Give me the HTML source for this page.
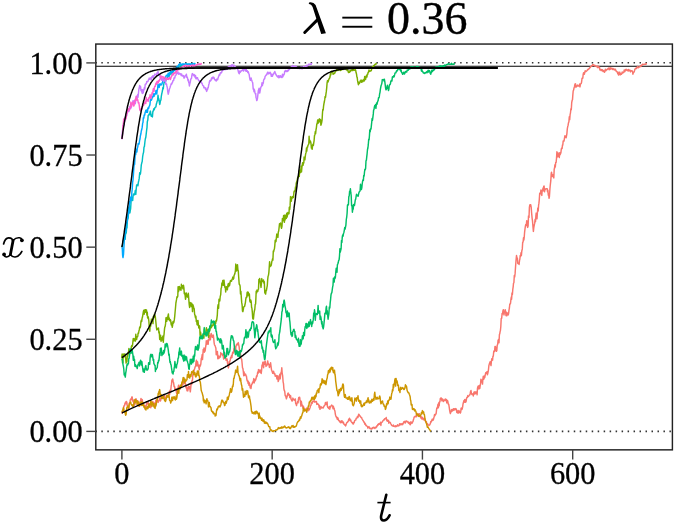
<!DOCTYPE html>
<html><head><meta charset="utf-8"><style>
html,body{margin:0;padding:0;background:#fff;overflow:hidden;}
svg{display:block;will-change:transform;}
text{font-family:"Liberation Serif",serif;fill:#000;}
</style></head><body>
<svg width="675" height="524" viewBox="0 0 675 524">
<rect x="0" y="0" width="675" height="524" fill="#fff"/>
<defs><clipPath id="pc"><rect x="95.8" y="44.05" width="576.6" height="405.8"/></clipPath></defs>
<g clip-path="url(#pc)">
<line x1="95.35" y1="62.8" x2="672.4" y2="62.8" stroke="#333" stroke-width="1.6" stroke-dasharray="1.5 4.48"/>
<line x1="95.35" y1="431.4" x2="672.4" y2="431.4" stroke="#333" stroke-width="1.6" stroke-dasharray="1.5 4.48"/>
<line x1="95.8" y1="66.29" x2="672.4" y2="66.29" stroke="#000" stroke-width="1.1"/>
<polyline points="121.9,413.7 122.3,412.3 122.7,411.2 123.1,410.8 123.4,411.1 123.8,406.0 124.2,406.1 124.6,405.5 125.0,403.1 125.3,403.9 125.7,402.0 126.1,403.8 126.5,401.5 126.9,402.7 127.2,405.3 127.6,406.8 128.0,407.6 128.4,407.1 128.8,408.2 129.2,404.7 129.5,403.1 129.9,401.9 130.3,400.0 130.7,399.0 131.1,399.7 131.4,399.4 131.8,396.9 132.2,397.0 132.6,400.9 132.9,399.5 133.3,400.8 133.7,403.2 134.1,405.3 134.5,402.6 134.9,404.4 135.2,401.4 135.6,400.8 136.0,398.7 136.4,400.0 136.8,401.5 137.2,403.8 137.6,400.8 137.9,403.5 138.3,402.8 138.7,406.1 139.1,404.1 139.5,406.0 139.8,403.2 140.2,401.3 140.6,401.1 141.0,398.4 141.4,400.0 141.9,402.8 142.3,399.6 142.8,404.2 143.2,403.0 143.6,405.3 144.0,405.8 144.3,406.8 144.7,405.7 145.1,409.1 145.5,407.6 145.9,405.4 146.3,405.9 146.7,402.6 147.0,404.2 147.4,403.8 147.8,403.0 148.2,402.3 148.6,404.2 149.1,405.8 149.5,407.2 149.9,404.2 150.3,405.4 150.8,407.7 151.2,403.7 151.6,406.1 152.0,403.9 152.4,404.2 152.8,401.5 153.3,403.4 153.7,405.0 154.1,402.9 154.5,404.0 154.9,405.6 155.3,404.7 155.7,400.5 156.1,404.8 156.5,399.7 156.9,400.6 157.3,399.8 157.7,401.5 158.1,402.4 158.5,401.4 158.9,400.2 159.2,399.9 159.6,399.5 160.0,397.4 160.4,401.1 160.8,400.0 161.2,398.2 161.6,398.0 162.0,396.2 162.4,397.4 162.7,397.8 163.1,396.6 163.5,396.6 163.9,396.9 164.3,395.8 164.7,395.4 165.2,399.6 165.6,398.1 166.0,398.4 166.4,397.7 166.9,395.7 167.3,396.8 167.7,396.9 168.1,394.7 168.5,396.3 168.8,394.7 169.2,391.4 169.6,394.4 170.0,390.8 170.4,389.9 170.8,389.9 171.2,385.7 171.5,384.4 171.9,380.0 172.3,381.6 172.7,378.9 173.2,381.7 173.6,382.8 174.1,386.6 174.5,386.2 174.9,389.4 175.3,388.9 175.7,388.6 176.0,388.9 176.4,392.3 176.8,393.9 177.2,391.1 177.6,393.0 178.0,388.6 178.4,385.6 178.8,385.1 179.2,386.7 179.7,388.1 180.1,389.0 180.5,388.0 180.9,386.9 181.3,386.7 181.8,386.6 182.2,384.8 182.6,384.0 183.0,384.4 183.4,383.0 183.7,381.4 184.1,381.8 184.5,381.3 184.9,381.8 185.3,382.8 185.7,386.5 186.2,388.0 186.6,386.9 187.0,390.7 187.4,387.9 187.8,390.9 188.2,388.7 188.6,386.3 189.1,388.6 189.5,386.8 189.9,388.8 190.3,391.8 190.8,387.2 191.2,382.4 191.7,384.3 192.1,380.4 192.5,379.9 192.9,373.1 193.4,371.9 193.8,372.0 194.2,369.9 194.6,368.7 194.9,367.7 195.3,366.4 195.6,366.4 196.0,362.2 196.4,360.3 196.8,362.6 197.1,366.0 197.5,361.6 197.9,364.1 198.2,364.7 198.6,366.4 199.0,368.3 199.3,369.8 199.7,365.1 200.1,366.2 200.4,365.6 200.8,364.1 201.3,358.4 201.7,357.8 202.2,354.5 202.5,359.6 202.9,354.5 203.2,349.5 203.6,350.7 204.0,348.0 204.4,352.2 204.7,350.4 205.1,351.2 205.5,347.9 205.9,345.7 206.3,340.8 206.6,344.4 207.0,342.0 207.4,344.0 207.8,340.3 208.2,344.2 208.5,339.6 208.9,340.5 209.3,335.4 209.7,336.5 210.1,338.1 210.4,339.8 210.8,334.9 211.2,333.4 211.6,336.5 212.0,335.2 212.4,337.4 212.8,335.2 213.3,335.1 213.7,338.0 214.1,342.6 214.4,344.4 214.8,345.4 215.2,345.9 215.5,347.0 215.9,348.2 216.2,354.8 216.6,353.3 217.0,352.6 217.4,351.4 217.8,358.7 218.1,355.3 218.5,358.4 218.9,358.4 219.3,357.2 219.7,356.3 220.0,356.2 220.4,357.1 220.8,352.6 221.2,354.1 221.7,353.7 222.1,353.7 222.5,355.2 222.9,354.8 223.3,356.9 223.7,359.0 224.1,354.9 224.5,352.8 224.9,357.6 225.3,357.9 225.7,357.3 226.1,360.3 226.4,359.6 226.8,360.6 227.1,359.0 227.5,363.1 227.9,364.0 228.4,367.9 228.8,365.9 229.2,361.5 229.5,363.0 229.9,361.2 230.3,359.7 230.7,357.2 231.1,358.1 231.5,355.5 231.9,357.6 232.3,354.5 232.7,352.3 233.1,352.2 233.5,353.0 233.9,348.9 234.3,347.9 234.7,351.0 235.1,346.8 235.5,352.3 235.9,346.8 236.3,345.0 236.7,344.3 237.1,345.1 237.5,343.4 237.9,343.9 238.3,342.6 238.7,344.8 239.1,346.6 239.6,351.4 240.0,354.7 240.4,353.1 240.8,357.1 241.2,358.8 241.7,359.2 242.1,363.2 242.5,367.8 242.9,368.4 243.3,371.3 243.7,375.7 244.1,371.9 244.4,375.5 244.8,374.3 245.2,375.0 245.6,374.1 246.0,375.9 246.4,375.9 246.9,379.7 247.3,380.9 247.7,380.4 248.1,383.4 248.5,381.6 249.0,385.3 249.4,382.9 249.8,384.6 250.2,387.8 250.6,386.6 251.0,388.5 251.4,385.4 251.8,384.3 252.2,383.8 252.6,382.1 253.0,382.5 253.4,381.2 253.8,378.6 254.2,382.9 254.6,379.5 254.9,381.1 255.3,380.4 255.7,379.8 256.1,378.3 256.5,376.1 256.9,376.7 257.3,374.7 257.7,372.0 258.1,373.2 258.5,369.6 258.9,372.1 259.3,372.0 259.7,370.2 260.1,370.0 260.5,372.5 260.9,370.6 261.2,373.5 261.6,370.3 262.0,365.1 262.4,365.7 262.8,362.3 263.2,363.0 263.6,367.7 264.0,361.9 264.4,362.9 264.8,364.3 265.2,361.0 265.6,363.6 266.0,366.4 266.4,365.7 266.9,365.6 267.3,363.8 267.7,360.9 268.1,363.6 268.5,364.6 268.9,364.2 269.4,367.5 269.8,366.1 270.2,364.6 270.6,362.8 271.0,366.1 271.5,369.9 271.9,370.8 272.3,372.0 272.7,373.2 273.1,371.9 273.6,371.3 274.0,373.6 274.4,374.1 274.8,373.5 275.2,376.2 275.7,376.1 276.1,375.4 276.5,376.2 276.9,379.0 277.3,376.3 277.8,375.7 278.2,381.6 278.6,380.4 279.0,379.1 279.4,376.4 279.8,374.3 280.2,378.8 280.6,375.0 281.0,372.6 281.4,371.7 281.8,367.8 282.2,373.5 282.6,375.3 283.1,381.8 283.5,383.6 283.9,388.8 284.3,390.5 284.7,391.1 285.2,395.7 285.6,395.6 286.0,397.2 286.4,398.9 286.8,397.5 287.3,396.1 287.7,393.8 288.1,393.0 288.5,395.0 288.9,395.0 289.4,394.4 289.8,397.6 290.2,397.2 290.6,395.7 291.0,399.1 291.4,399.2 291.8,400.7 292.1,401.1 292.5,400.3 292.9,398.1 293.3,399.3 293.7,399.8 294.1,399.4 294.5,400.2 294.9,399.6 295.3,398.9 295.7,403.8 296.1,403.5 296.5,405.6 296.9,403.5 297.3,402.9 297.7,401.5 298.1,402.7 298.4,399.4 298.8,397.4 299.2,398.9 299.6,397.2 300.0,399.4 300.4,401.3 300.9,406.3 301.3,401.3 301.7,403.5 302.1,405.4 302.5,405.2 302.9,408.1 303.3,406.3 303.7,407.1 304.1,409.1 304.5,409.5 304.9,409.8 305.3,409.3 305.7,409.0 306.1,409.0 306.4,408.9 306.8,408.0 307.2,409.2 307.6,408.2 308.0,410.8 308.4,408.2 308.8,410.1 309.3,409.7 309.7,408.5 310.1,407.7 310.5,405.8 310.9,405.5 311.3,403.3 311.7,402.4 312.1,403.6 312.5,402.0 312.9,401.1 313.3,401.4 313.7,401.4 314.1,400.6 314.5,402.0 314.9,401.6 315.2,401.9 315.6,401.7 316.0,401.5 316.4,401.4 316.8,404.4 317.2,403.9 317.6,403.6 318.0,404.3 318.4,404.2 318.8,405.2 319.2,407.7 319.6,405.6 320.0,409.3 320.4,407.0 320.8,407.3 321.1,406.7 321.5,408.0 321.9,407.9 322.3,407.5 322.7,407.7 323.1,408.1 323.5,407.4 323.9,406.1 324.3,405.8 324.7,405.5 325.1,404.2 325.5,402.4 325.9,403.5 326.3,404.4 326.7,404.4 327.1,401.9 327.4,406.3 327.8,407.5 328.2,407.5 328.6,408.5 329.0,407.7 329.4,406.4 329.8,409.2 330.2,406.8 330.6,407.1 331.0,406.0 331.4,405.4 331.8,405.1 332.2,405.6 332.6,406.2 333.0,408.7 333.4,406.3 333.8,408.8 334.1,408.1 334.5,409.9 334.9,410.9 335.3,414.0 335.7,415.6 336.1,416.9 336.5,416.8 336.9,418.1 337.3,419.2 337.7,417.6 338.1,418.5 338.5,420.3 338.9,420.5 339.3,421.3 339.7,420.9 340.1,422.3 340.4,422.1 340.8,422.8 341.2,421.0 341.6,422.4 342.0,420.8 342.5,422.6 342.9,422.8 343.4,422.1 343.8,424.0 344.2,424.3 344.6,424.4 344.9,425.2 345.3,424.7 345.7,425.9 346.1,424.5 346.5,423.1 346.8,422.7 347.2,422.5 347.6,422.1 348.0,421.5 348.4,420.9 348.7,419.2 349.1,420.2 349.5,418.2 349.9,419.3 350.3,420.8 350.7,419.9 351.1,421.3 351.5,422.1 351.9,422.6 352.3,422.4 352.6,423.7 353.0,423.2 353.4,424.0 353.8,422.3 354.2,422.6 354.6,420.8 355.0,420.3 355.4,420.1 355.8,420.0 356.2,418.2 356.6,418.3 357.0,417.6 357.4,416.6 357.9,417.6 358.3,415.8 358.7,414.3 359.1,414.4 359.5,415.7 359.9,415.7 360.4,416.5 360.8,417.1 361.2,417.7 361.6,417.5 362.1,419.0 362.5,419.7 362.9,420.2 363.3,421.0 363.7,421.4 364.0,422.4 364.4,422.3 364.8,424.2 365.2,423.5 365.6,424.3 365.9,425.5 366.3,425.3 366.7,425.9 367.1,426.3 367.5,426.5 367.8,428.0 368.2,427.5 368.6,427.2 369.0,426.6 369.4,428.0 369.7,428.5 370.1,428.2 370.5,428.7 370.9,428.2 371.3,428.9 371.7,429.1 372.1,428.5 372.4,427.8 372.8,428.2 373.2,427.3 373.6,427.7 374.0,427.3 374.4,427.8 374.8,428.5 375.2,427.6 375.5,427.7 375.9,427.8 376.3,426.5 376.7,426.9 377.1,425.5 377.4,425.8 377.8,424.5 378.2,424.9 378.6,423.7 379.0,423.7 379.3,423.7 379.7,424.2 380.1,423.7 380.5,422.3 380.9,425.5 381.2,422.8 381.6,422.5 382.0,422.1 382.4,422.1 382.8,420.9 383.1,420.6 383.5,420.1 383.9,419.6 384.3,419.9 384.7,418.7 385.0,418.8 385.4,418.6 385.8,418.2 386.2,417.5 386.6,420.2 386.9,419.6 387.3,421.3 387.7,420.2 388.1,421.0 388.5,420.4 388.8,423.2 389.2,421.9 389.6,422.1 390.0,422.3 390.4,422.7 390.8,423.7 391.3,424.8 391.7,425.3 392.1,425.6 392.5,425.9 392.9,426.1 393.3,425.0 393.7,426.2 394.1,426.1 394.5,426.4 394.9,425.9 395.3,426.8 395.7,425.7 396.1,426.1 396.5,426.3 396.9,426.5 397.2,425.6 397.6,424.7 398.0,425.6 398.4,425.6 398.8,425.9 399.2,424.9 399.6,423.8 400.0,425.0 400.3,423.9 400.7,424.5 401.1,423.8 401.5,424.7 401.9,423.9 402.2,423.8 402.6,424.7 403.0,424.0 403.4,422.7 403.8,421.8 404.1,421.9 404.5,422.6 404.9,421.2 405.3,423.0 405.7,421.5 406.0,421.4 406.4,420.9 406.8,421.1 407.2,421.9 407.6,422.1 408.0,421.6 408.5,423.2 408.9,423.4 409.3,422.5 409.7,424.0 410.1,424.8 410.5,424.5 410.9,421.7 411.3,423.0 411.7,423.2 412.1,423.2 412.5,422.1 412.9,421.7 413.3,420.1 413.7,418.9 414.2,417.0 414.6,417.0 415.0,416.3 415.4,416.3 415.8,416.8 416.2,416.8 416.5,414.9 416.9,415.7 417.3,413.5 417.7,414.3 418.1,416.1 418.5,414.7 419.0,414.5 419.4,413.7 419.8,416.1 420.2,416.3 420.6,417.8 421.0,416.3 421.3,418.0 421.7,418.9 422.1,417.3 422.5,417.8 422.9,419.1 423.2,419.5 423.6,419.7 424.0,418.2 424.4,420.0 424.8,418.7 425.2,420.3 425.6,421.4 426.0,422.1 426.4,421.5 426.8,424.0 427.2,423.9 427.6,423.7 428.0,425.1 428.5,424.9 428.9,425.4 429.3,424.9 429.7,424.9 430.1,424.0 430.4,423.4 430.8,421.5 431.2,421.9 431.6,421.3 431.9,420.1 432.3,419.1 432.7,420.2 433.1,420.3 433.4,419.7 433.8,418.0 434.2,416.5 434.6,414.4 434.9,415.8 435.3,414.8 435.7,414.3 436.1,413.6 436.5,410.3 436.8,407.9 437.2,408.3 437.6,406.6 438.0,404.2 438.4,407.7 438.8,402.7 439.2,405.7 439.5,401.8 439.9,402.0 440.3,398.6 440.7,398.8 441.1,397.8 441.5,398.6 441.9,400.8 442.2,400.5 442.6,399.0 443.0,400.0 443.4,401.5 443.8,400.4 444.1,400.1 444.5,400.5 444.9,400.6 445.3,398.9 445.6,400.6 446.0,400.5 446.4,399.4 446.8,402.9 447.2,400.5 447.5,400.4 447.9,401.8 448.3,404.1 448.7,404.2 449.1,406.5 449.6,410.1 450.0,412.2 450.4,413.6 450.8,411.0 451.2,411.9 451.5,409.6 451.9,411.4 452.3,410.9 452.7,409.5 453.1,409.3 453.4,408.7 453.8,410.4 454.2,408.7 454.6,409.3 454.9,409.7 455.3,409.5 455.7,408.6 456.1,408.8 456.5,410.2 456.8,412.5 457.2,410.5 457.6,412.9 458.0,412.2 458.4,413.1 458.8,410.4 459.2,411.1 459.5,412.0 459.9,412.6 460.3,413.1 460.7,412.2 461.1,408.1 461.5,408.0 461.9,409.5 462.2,408.9 462.6,407.2 463.0,404.0 463.4,402.8 463.8,400.8 464.2,402.3 464.6,399.8 464.9,399.5 465.3,401.0 465.7,402.2 466.1,401.5 466.5,398.6 467.0,397.3 467.4,397.5 467.8,395.6 468.3,396.5 468.7,396.2 469.1,395.5 469.5,394.7 469.9,394.7 470.2,393.5 470.6,391.4 471.0,390.5 471.4,393.5 471.8,394.3 472.2,394.6 472.6,394.2 472.9,393.7 473.3,396.0 473.7,393.2 474.1,392.1 474.5,394.0 475.0,391.7 475.4,393.7 475.8,392.9 476.3,391.9 476.7,392.1 477.1,394.8 477.5,388.1 477.9,386.7 478.2,385.9 478.6,388.5 479.0,389.0 479.4,385.5 479.8,388.3 480.2,385.6 480.6,383.6 480.9,379.3 481.3,382.1 481.7,381.9 482.1,380.1 482.5,384.1 482.9,378.8 483.3,376.2 483.6,379.4 484.0,378.9 484.4,376.0 484.8,377.5 485.2,375.1 485.7,372.8 486.1,372.4 486.5,373.3 487.0,371.7 487.4,374.8 487.8,373.4 488.2,371.4 488.5,369.3 488.9,365.5 489.3,364.1 489.7,362.9 490.1,361.7 490.6,363.3 491.0,365.6 491.4,361.4 491.8,358.7 492.2,360.0 492.6,360.2 492.9,356.2 493.3,356.2 493.7,351.8 494.1,350.7 494.5,351.6 495.0,346.4 495.4,346.7 495.8,347.3 496.1,350.9 496.4,351.3 496.8,350.7 497.2,345.4 497.7,344.2 498.1,340.1 498.5,339.6 499.0,342.7 499.4,334.7 499.8,333.6 500.1,331.6 500.4,330.6 500.8,326.7 501.2,318.6 501.7,318.3 502.1,313.4 502.5,313.9 502.9,311.0 503.3,309.7 503.6,311.4 504.0,315.0 504.4,311.9 504.8,312.0 505.2,309.7 505.6,311.6 506.0,315.6 506.3,312.2 506.7,315.8 507.1,312.6 507.5,314.7 507.9,313.8 508.3,314.9 508.6,313.4 509.0,310.1 509.4,308.0 509.8,304.0 510.1,304.0 510.5,303.4 510.9,299.6 511.3,297.1 511.6,299.3 512.0,292.9 512.4,294.5 512.8,289.3 513.2,286.6 513.5,283.2 513.9,282.8 514.3,275.6 514.7,276.9 515.1,273.4 515.6,266.0 516.0,260.8 516.5,255.5 516.9,257.7 517.4,258.2 517.8,263.5 518.3,263.0 518.7,263.5 519.1,264.5 519.5,260.7 519.9,258.8 520.2,255.5 520.6,256.5 521.0,252.8 521.4,255.5 521.8,251.0 522.3,248.9 522.7,242.1 523.1,242.0 523.5,237.7 523.9,240.0 524.2,237.5 524.6,232.2 525.0,229.0 525.4,226.1 525.8,224.5 526.3,225.5 526.7,220.8 527.2,221.1 527.6,227.4 528.1,226.1 528.5,215.9 529.0,217.4 529.4,207.4 529.8,204.9 530.3,204.7 530.7,204.7 531.2,207.3 531.6,212.7 532.1,218.1 532.5,220.9 533.0,227.3 533.4,231.4 533.8,227.7 534.3,224.8 534.7,223.4 535.1,219.3 535.5,221.6 535.9,215.6 536.2,213.1 536.6,217.1 537.0,218.7 537.4,212.7 537.8,208.0 538.2,211.0 538.6,205.2 538.9,203.4 539.3,199.5 539.7,193.2 540.1,194.0 540.5,193.4 540.9,190.1 541.4,190.7 541.8,195.4 542.2,190.0 542.6,190.5 543.0,188.0 543.3,190.8 543.7,186.5 544.1,186.0 544.5,191.8 544.9,189.7 545.3,189.5 545.6,189.0 546.0,188.7 546.4,188.8 546.8,188.7 547.2,188.8 547.5,191.7 547.9,190.2 548.3,195.1 548.7,194.2 549.0,198.3 549.4,196.7 549.9,189.2 550.3,184.8 550.8,180.7 551.2,173.9 551.5,172.2 551.9,174.7 552.3,176.6 552.7,176.0 553.0,174.8 553.4,175.3 553.8,177.9 554.2,169.1 554.5,168.4 554.9,164.8 555.3,167.0 555.7,162.4 556.1,162.3 556.5,158.6 556.9,151.8 557.3,157.0 557.7,153.1 558.1,152.9 558.5,156.3 558.9,156.6 559.3,157.6 559.7,152.7 560.1,154.8 560.5,153.8 560.9,152.7 561.3,149.1 561.7,148.1 562.1,148.6 562.5,144.9 562.8,145.0 563.2,140.9 563.6,140.9 564.0,141.1 564.5,138.1 564.9,135.8 565.3,136.1 565.7,136.8 566.1,137.8 566.5,135.8 566.9,133.6 567.3,128.9 567.7,126.6 568.1,125.2 568.5,122.7 568.9,121.9 569.3,116.7 569.7,119.6 570.1,114.7 570.5,112.8 570.9,108.7 571.3,109.6 571.7,102.7 572.1,100.5 572.5,99.6 572.8,95.4 573.2,90.8 573.6,90.2 574.0,88.0 574.4,87.0 574.8,84.8 575.2,83.7 575.6,84.1 576.0,87.4 576.4,85.9 576.8,86.2 577.2,86.0 577.6,85.1 578.0,85.8 578.4,86.0 578.8,86.0 579.2,85.7 579.6,84.1 580.0,86.9 580.4,84.2 580.8,83.6 581.2,83.6 581.6,82.0 582.0,78.5 582.4,78.0 582.8,78.2 583.2,74.1 583.6,72.8 584.0,72.9 584.4,74.2 584.8,72.2 585.2,70.8 585.6,71.7 586.0,71.5 586.4,71.2 586.8,70.8 587.2,70.4 587.6,69.7 588.0,69.3 588.4,69.5 588.8,68.9 589.2,68.5 589.6,68.3 589.9,67.5 590.3,67.4 590.7,66.7 591.1,66.4 591.5,65.7 591.9,66.1 592.3,65.7 592.7,64.6 593.1,64.7 593.5,64.8 593.9,65.4 594.3,65.9 594.7,65.2 595.1,65.7 595.5,66.0 595.9,66.3 596.3,66.4 596.7,66.6 597.1,66.3 597.5,67.5 597.9,66.0 598.3,67.5 598.7,66.9 599.1,67.1 599.5,67.2 599.9,69.9 600.3,69.4 600.7,70.0 601.1,70.5 601.5,69.6 601.9,70.5 602.3,69.7 602.7,70.7 603.0,71.5 603.4,70.5 603.8,71.4 604.2,71.7 604.6,72.2 605.0,70.5 605.4,69.2 605.9,70.8 606.3,70.0 606.7,70.0 607.1,69.3 607.5,69.4 607.9,68.7 608.3,68.3 608.7,68.0 609.1,69.7 609.5,68.4 609.8,69.6 610.2,67.7 610.6,69.0 611.0,69.0 611.4,68.7 611.8,68.1 612.2,68.6 612.6,69.5 613.0,68.5 613.4,68.9 613.8,69.1 614.2,70.0 614.6,69.4 615.0,69.0 615.4,69.3 615.8,70.4 616.2,71.3 616.6,71.5 617.0,71.7 617.4,72.2 617.8,73.8 618.2,72.3 618.6,75.1 619.0,74.1 619.4,73.6 619.8,72.1 620.2,74.9 620.6,73.7 621.0,74.2 621.4,74.3 621.8,73.7 622.2,71.9 622.6,72.9 623.0,73.0 623.4,72.2 623.8,72.3 624.2,70.0 624.5,70.9 624.9,71.6 625.3,70.0 625.7,69.6 626.1,69.3 626.5,70.2 626.9,70.4 627.3,70.0 627.7,69.9 628.1,70.9 628.5,69.4 628.9,70.9 629.3,70.1 629.7,70.5 630.1,70.3 630.5,71.9 630.9,70.6 631.3,71.1 631.7,70.7 632.1,70.7 632.5,71.5 632.9,74.2 633.3,72.9 633.7,72.3 634.1,72.0 634.5,70.7 634.9,69.2 635.3,68.9 635.7,68.1 636.1,68.1 636.5,68.6 636.9,67.2 637.3,67.6 637.7,66.5 638.1,67.6 638.5,67.7 638.9,67.4 639.3,66.9 639.7,66.8 640.1,66.6 640.5,65.6 640.9,66.5 641.3,65.4 641.7,64.9 642.1,65.2 642.5,64.2 642.9,64.5 643.3,64.5 643.7,64.4 644.1,64.2 644.5,64.2 644.8,64.2 645.2,64.2 645.6,64.2 646.0,64.2 646.4,62.9" fill="none" stroke="#F8766D" stroke-width="1.45" stroke-linejoin="round"/>
<polyline points="121.9,412.2 122.3,411.1 122.7,410.2 123.0,409.1 123.4,407.6 123.8,409.4 124.2,412.1 124.6,412.1 124.9,411.6 125.3,414.0 125.7,415.2 126.1,414.4 126.5,410.3 126.8,407.9 127.2,407.0 127.6,407.1 128.0,406.1 128.4,408.1 128.8,407.6 129.2,404.5 129.5,403.1 129.9,403.1 130.3,403.0 130.7,402.0 131.1,404.3 131.5,404.8 131.8,405.2 132.2,404.8 132.6,406.2 133.0,405.0 133.4,406.3 133.8,404.0 134.1,403.2 134.5,400.5 134.9,399.5 135.3,402.7 135.6,399.6 136.0,401.8 136.4,401.5 136.8,400.7 137.2,404.7 137.5,402.5 137.9,401.2 138.3,402.1 138.7,403.4 139.0,405.2 139.4,406.1 139.8,405.2 140.2,403.1 140.6,402.6 140.9,404.7 141.3,401.9 141.7,405.5 142.1,401.9 142.5,403.0 142.9,405.5 143.2,402.9 143.6,404.1 144.0,407.2 144.4,406.8 144.8,406.8 145.1,408.6 145.5,409.1 145.9,410.0 146.3,408.0 146.7,408.2 147.1,406.8 147.4,406.3 147.8,408.8 148.2,407.7 148.6,406.1 149.0,403.9 149.3,406.8 149.7,405.9 150.1,403.8 150.5,404.5 150.8,400.7 151.2,401.5 151.6,404.0 152.0,406.2 152.4,402.5 152.8,404.3 153.1,404.6 153.5,403.7 153.9,406.8 154.3,407.1 154.7,407.6 155.1,408.4 155.5,403.5 155.8,406.0 156.2,404.0 156.6,402.4 157.0,400.4 157.4,399.5 157.8,397.5 158.2,393.2 158.5,394.6 158.9,391.5 159.3,390.8 159.7,389.6 160.1,393.4 160.4,396.3 160.8,395.9 161.2,394.6 161.6,398.3 161.9,396.6 162.3,396.9 162.7,398.6 163.1,398.2 163.5,396.6 163.9,398.1 164.2,398.8 164.6,400.6 165.0,399.6 165.4,401.5 165.8,400.6 166.2,398.3 166.6,396.9 166.9,395.4 167.3,396.0 167.7,396.9 168.1,395.8 168.4,396.9 168.8,394.9 169.2,396.9 169.6,400.5 169.9,400.5 170.3,400.9 170.7,403.0 171.1,401.7 171.5,400.3 171.8,397.2 172.2,398.0 172.6,400.6 173.0,396.9 173.4,398.6 173.8,397.1 174.2,396.8 174.5,398.0 174.9,399.2 175.3,400.0 175.7,399.0 176.1,396.0 176.4,399.2 176.8,398.1 177.2,394.9 177.6,392.3 178.0,388.6 178.4,390.0 178.8,393.2 179.1,389.0 179.5,389.3 179.9,386.5 180.3,388.1 180.7,385.1 181.1,386.8 181.5,385.4 181.9,382.0 182.4,382.9 182.8,379.7 183.2,377.4 183.6,378.4 184.0,377.8 184.4,383.0 184.7,381.8 185.1,379.3 185.5,381.3 185.9,381.3 186.3,380.3 186.6,380.1 187.0,379.4 187.4,374.6 187.8,374.6 188.2,377.1 188.5,371.5 188.9,377.4 189.3,377.4 189.7,378.1 190.1,374.8 190.5,375.4 190.9,376.6 191.3,373.9 191.7,371.7 192.1,372.6 192.5,372.2 192.9,371.9 193.3,370.4 193.7,374.8 194.1,372.7 194.4,373.7 194.8,372.4 195.2,374.9 195.5,376.5 195.9,376.9 196.2,376.5 196.6,373.5 197.0,373.6 197.4,370.9 197.8,371.8 198.1,375.5 198.5,371.0 198.9,375.5 199.4,376.0 199.8,381.3 200.3,381.9 200.8,386.0 201.2,390.3 201.7,391.8 202.2,393.1 202.7,395.0 203.1,396.5 203.4,400.9 203.8,399.2 204.2,402.8 204.6,402.3 204.9,400.4 205.3,401.9 205.7,401.4 206.1,403.8 206.5,400.0 206.9,398.8 207.3,400.0 207.7,400.7 208.1,402.1 208.5,406.9 208.9,403.5 209.3,402.5 209.7,406.6 210.2,406.5 210.6,407.1 211.0,407.7 211.4,410.7 211.8,411.5 212.3,411.2 212.7,412.4 213.1,411.9 213.5,413.8 213.9,413.1 214.4,413.6 214.8,413.6 215.2,416.1 215.6,415.0 216.0,415.4 216.5,411.0 216.9,409.0 217.3,409.8 217.7,408.6 218.1,406.8 218.5,407.0 218.9,406.2 219.2,405.8 219.6,406.4 220.0,407.0 220.4,405.6 220.8,405.1 221.2,402.9 221.7,400.6 222.1,400.0 222.5,401.4 222.9,400.8 223.3,402.6 223.8,402.4 224.2,403.5 224.6,405.6 225.0,405.2 225.4,402.0 225.8,401.3 226.2,403.2 226.6,401.6 227.0,400.5 227.4,397.2 227.8,397.2 228.2,399.4 228.6,396.8 229.0,396.1 229.4,394.4 229.7,392.7 230.1,391.6 230.5,388.6 230.9,390.9 231.3,392.3 231.7,391.4 232.1,388.8 232.5,386.0 232.9,386.6 233.3,384.2 233.7,378.3 234.1,378.3 234.5,375.8 234.9,374.7 235.3,373.0 235.6,370.1 236.0,371.3 236.4,371.0 236.8,372.4 237.2,368.8 237.6,366.2 238.0,372.4 238.5,374.8 238.9,375.7 239.3,376.2 239.7,378.7 240.1,380.7 240.6,378.4 241.0,381.9 241.4,384.6 241.8,385.8 242.2,390.1 242.7,388.7 243.1,393.0 243.5,397.2 243.9,394.5 244.3,395.1 244.8,396.4 245.2,391.3 245.6,393.0 246.0,394.6 246.4,394.1 246.9,390.6 247.3,391.0 247.7,390.9 248.1,393.9 248.5,397.5 249.0,397.9 249.4,395.9 249.8,399.3 250.2,400.6 250.6,403.1 251.1,406.7 251.5,411.1 251.9,411.9 252.3,413.3 252.7,412.2 253.2,413.0 253.6,413.0 254.0,414.0 254.4,412.2 254.8,413.1 255.2,411.5 255.6,413.9 256.0,413.5 256.4,411.2 256.8,411.4 257.2,411.9 257.6,413.5 258.0,413.6 258.4,414.5 258.8,418.3 259.1,413.0 259.5,416.6 259.9,416.1 260.3,418.2 260.7,417.8 261.1,418.6 261.6,420.2 262.0,418.1 262.4,420.3 262.8,421.0 263.2,421.3 263.6,419.8 264.0,420.3 264.4,423.1 264.8,421.6 265.2,423.4 265.6,422.4 266.0,422.1 266.4,423.1 266.8,423.5 267.1,422.9 267.5,423.5 267.9,424.2 268.3,425.3 268.7,426.6 269.1,426.6 269.4,426.7 269.8,426.7 270.1,429.1 270.5,429.5 270.9,430.5 271.2,430.0 271.6,429.9 271.9,430.8 272.3,431.2 272.7,431.1 273.1,431.6 273.5,430.8 273.9,430.7 274.3,430.7 274.7,430.6 275.1,430.6 275.5,430.4 275.9,430.0 276.3,430.1 276.8,429.8 277.2,429.7 277.6,429.0 278.0,428.7 278.4,427.6 278.9,428.7 279.3,428.3 279.7,428.3 280.1,427.6 280.5,427.7 281.0,428.3 281.4,427.2 281.8,426.9 282.2,428.1 282.6,427.6 283.1,427.0 283.5,427.6 283.9,427.0 284.3,426.3 284.7,425.9 285.0,426.7 285.4,427.3 285.8,427.8 286.2,427.9 286.6,427.9 287.0,427.6 287.3,427.5 287.7,427.3 288.1,427.6 288.5,426.8 288.9,427.0 289.4,427.4 289.8,428.6 290.2,428.6 290.6,428.3 291.0,427.0 291.5,427.0 291.9,425.8 292.3,426.6 292.7,426.8 293.1,425.4 293.5,427.2 293.9,427.1 294.2,427.3 294.6,426.6 295.0,426.9 295.4,426.6 295.8,426.4 296.2,426.0 296.7,424.7 297.1,422.9 297.5,422.4 297.9,421.7 298.3,421.5 298.8,421.0 299.2,419.7 299.6,420.3 300.0,418.8 300.4,417.0 300.9,418.3 301.3,416.3 301.7,416.1 302.1,414.4 302.5,413.1 303.0,412.1 303.4,407.9 303.8,409.8 304.2,409.2 304.6,411.0 305.1,410.0 305.5,410.4 305.9,410.8 306.3,410.1 306.7,412.2 307.2,409.2 307.6,409.2 308.0,407.7 308.4,405.8 308.8,406.1 309.3,402.1 309.7,402.6 310.1,401.4 310.5,400.4 310.9,401.0 311.4,399.1 311.8,397.5 312.2,397.2 312.6,398.2 313.0,399.4 313.5,397.2 313.9,397.6 314.3,399.3 314.7,395.9 315.1,398.5 315.6,394.9 316.0,396.7 316.4,393.0 316.8,393.3 317.2,390.8 317.6,390.3 318.0,390.3 318.4,388.9 318.8,392.6 319.2,388.8 319.6,388.8 320.0,387.6 320.4,384.2 320.9,383.6 321.3,384.9 321.7,382.5 322.1,378.8 322.5,379.4 323.0,383.0 323.4,381.5 323.8,380.4 324.2,382.4 324.6,383.5 325.1,381.0 325.5,382.3 325.9,384.6 326.3,382.3 326.7,379.5 327.2,378.1 327.6,374.6 328.0,374.1 328.4,370.7 328.8,372.9 329.3,370.0 329.7,369.3 330.1,372.0 330.5,368.3 331.0,369.0 331.4,367.3 331.8,367.8 332.3,369.9 332.7,367.4 333.2,372.0 333.6,372.8 334.0,371.0 334.5,370.2 334.9,374.2 335.3,376.2 335.7,381.1 336.1,384.1 336.6,388.1 337.0,390.7 337.4,390.9 337.8,392.9 338.2,395.8 338.7,394.3 339.1,389.4 339.5,393.0 339.9,389.5 340.3,391.1 340.8,388.3 341.2,390.2 341.6,388.8 342.0,388.3 342.5,385.3 342.9,383.9 343.4,385.1 343.8,391.5 344.2,395.7 344.6,397.2 344.9,395.3 345.3,394.6 345.7,397.3 346.1,398.1 346.5,397.9 346.8,398.0 347.2,398.7 347.6,399.2 348.0,397.6 348.4,398.9 348.7,399.2 349.1,396.5 349.5,397.0 349.9,397.6 350.3,400.6 350.7,399.5 351.1,399.0 351.5,401.1 351.9,397.7 352.3,401.6 352.6,404.9 353.0,404.5 353.4,405.8 353.8,404.4 354.2,403.4 354.5,401.3 354.9,398.0 355.3,399.2 355.7,399.7 356.1,398.6 356.4,401.1 356.8,397.7 357.2,398.5 357.6,398.1 358.0,395.8 358.3,399.1 358.7,401.2 359.1,401.1 359.5,400.3 359.9,403.1 360.3,401.9 360.7,401.0 361.1,405.9 361.5,404.8 361.9,406.8 362.3,406.2 362.7,406.2 363.1,405.3 363.6,404.5 364.0,403.2 364.4,405.2 364.8,403.0 365.2,402.8 365.6,402.8 366.0,402.1 366.5,400.9 366.9,402.6 367.3,400.3 367.7,399.2 368.1,397.7 368.5,401.7 368.8,399.9 369.2,402.8 369.6,403.0 370.0,401.9 370.4,402.6 370.7,401.1 371.1,402.7 371.5,401.0 371.9,399.2 372.3,401.3 372.7,400.7 373.2,400.5 373.6,398.6 374.0,400.1 374.4,394.4 374.8,392.2 375.2,396.3 375.6,397.0 376.0,399.4 376.4,397.7 376.8,398.8 377.2,397.3 377.6,398.9 378.0,398.8 378.4,398.4 378.9,398.7 379.3,396.9 379.7,395.9 380.1,397.3 380.5,401.2 380.9,403.8 381.3,403.3 381.7,401.5 382.1,402.2 382.5,400.9 382.9,403.0 383.3,404.2 383.7,404.2 384.1,406.2 384.6,405.9 385.0,407.0 385.4,409.4 385.8,408.7 386.2,406.7 386.6,403.8 386.9,405.0 387.3,403.5 387.7,401.1 388.1,403.7 388.5,400.4 388.9,400.1 389.4,400.0 389.8,397.1 390.2,398.1 390.6,399.2 391.0,399.1 391.4,395.6 391.7,393.5 392.1,392.4 392.5,389.6 392.9,390.7 393.3,384.4 393.6,387.7 394.0,384.2 394.4,383.9 394.8,380.0 395.2,378.6 395.6,386.1 396.1,378.5 396.5,382.2 396.9,380.6 397.3,382.0 397.7,385.4 398.1,385.8 398.4,385.2 398.8,390.5 399.2,389.6 399.6,390.6 400.0,392.5 400.3,387.9 400.7,387.3 401.1,387.7 401.5,389.2 401.9,388.4 402.3,388.2 402.7,387.6 403.1,388.1 403.5,388.9 403.9,389.6 404.3,389.4 404.7,388.0 405.0,388.1 405.4,384.8 405.8,385.8 406.2,385.8 406.6,386.7 406.9,389.1 407.3,391.1 407.7,391.5 408.1,392.7 408.5,392.7 408.9,392.9 409.3,394.2 409.7,395.3 410.1,396.4 410.5,400.0 410.8,400.8 411.2,404.9 411.6,404.9 412.0,404.5 412.4,409.2 412.7,408.2 413.1,409.6 413.5,408.7 413.9,408.8 414.3,409.2 414.6,410.9 415.0,409.6 415.4,410.6 415.8,411.1 416.2,412.9 416.5,414.6 416.9,414.9 417.3,414.4 417.7,414.9 418.1,414.0 418.4,415.4 418.8,416.4 419.2,416.3 419.6,415.8 420.0,415.7 420.3,416.1 420.7,414.9 421.1,414.4 421.5,412.5 422.0,413.8 422.4,410.6 422.8,411.7 423.2,412.8 423.6,411.9 424.0,414.4 424.4,414.7 424.8,417.5 425.1,419.6 425.5,420.9 425.9,422.1 426.3,423.2 426.7,424.3 427.0,425.6 427.4,427.2 427.8,426.8 428.2,427.3 428.6,428.3 429.0,428.9 429.4,429.1 429.8,429.8 430.2,430.4 430.6,431.4" fill="none" stroke="#CD9600" stroke-width="1.45" stroke-linejoin="round"/>
<polyline points="121.7,357.8 122.1,354.0 122.5,362.9 122.9,362.6 123.3,354.2 123.7,354.6 124.1,354.0 124.5,354.0 124.9,356.9 125.3,354.3 125.7,358.8 126.1,363.1 126.5,361.6 126.9,361.6 127.3,355.9 127.7,356.2 128.1,352.7 128.5,352.2 128.9,348.5 129.3,354.0 129.7,353.9 130.1,350.2 130.5,350.4 131.0,349.4 131.4,346.3 131.8,345.5 132.2,346.3 132.6,344.8 133.0,340.5 133.3,338.4 133.7,340.9 134.1,338.7 134.5,340.5 134.9,340.3 135.3,341.2 135.8,334.2 136.2,338.9 136.6,339.6 137.0,336.8 137.4,337.0 137.8,335.9 138.1,333.1 138.5,333.4 138.9,331.0 139.3,329.7 139.7,327.1 140.1,327.8 140.5,326.7 140.9,322.0 141.3,320.3 141.7,321.5 142.1,318.3 142.5,317.1 142.9,314.6 143.4,311.4 143.8,310.2 144.2,314.2 144.6,312.0 145.0,309.7 145.4,312.2 145.7,309.8 146.1,311.0 146.5,310.0 146.9,315.1 147.3,312.2 147.6,318.0 148.0,316.5 148.4,317.7 148.9,321.5 149.4,329.2 149.8,331.2 150.2,324.6 150.6,326.3 151.0,323.5 151.4,319.1 151.8,320.1 152.2,319.6 152.6,319.9 153.0,323.6 153.3,316.6 153.7,317.4 154.1,315.8 154.5,313.9 154.9,317.8 155.2,315.7 155.6,319.3 156.0,323.4 156.4,327.3 156.8,329.9 157.2,328.4 157.7,329.6 158.1,328.3 158.5,328.0 158.9,333.0 159.3,331.9 159.7,339.5 160.1,338.1 160.6,335.2 161.0,341.3 161.4,337.7 161.8,338.7 162.2,340.0 162.6,337.3 162.9,336.1 163.3,342.2 163.7,336.8 164.1,333.8 164.5,329.1 164.8,327.1 165.2,326.3 165.6,323.4 166.0,317.7 166.4,318.2 166.8,321.2 167.2,317.2 167.6,319.4 168.0,315.8 168.4,313.9 168.8,319.5 169.2,317.9 169.5,320.7 169.9,320.4 170.3,319.6 170.7,320.6 171.1,324.0 171.4,325.0 171.8,323.1 172.2,327.3 172.6,325.5 173.0,321.5 173.4,323.1 173.9,322.2 174.3,319.9 174.7,316.6 175.1,312.0 175.5,307.7 175.9,303.0 176.2,301.3 176.6,299.2 177.0,296.7 177.4,297.2 177.8,296.0 178.1,286.8 178.5,291.6 178.9,289.0 179.3,286.4 179.7,288.4 180.1,289.7 180.6,287.4 181.0,290.2 181.4,284.3 181.8,287.2 182.2,287.7 182.6,285.8 183.0,288.8 183.5,285.3 183.9,287.9 184.3,293.8 184.7,292.9 185.1,295.3 185.5,299.3 185.9,297.3 186.3,292.9 186.7,296.5 187.1,295.0 187.5,296.7 187.9,297.2 188.3,293.3 188.8,299.4 189.2,304.5 189.6,307.5 190.0,302.5 190.4,303.9 190.8,302.9 191.3,306.6 191.7,303.3 192.1,304.6 192.5,311.6 192.9,304.8 193.4,306.4 193.8,307.8 194.2,308.8 194.6,314.0 195.0,315.3 195.5,317.8 195.9,316.2 196.3,321.4 196.7,320.4 197.1,324.6 197.6,325.0 198.0,320.5 198.4,324.5 198.8,328.0 199.2,325.7 199.7,326.5 200.1,335.4 200.5,331.9 200.9,334.3 201.3,336.1 201.8,336.4 202.2,337.0 202.6,338.2 203.0,334.9 203.4,336.1 203.9,338.1 204.3,328.9 204.7,334.0 205.1,333.6 205.5,332.3 206.0,333.2 206.4,327.7 206.8,329.8 207.2,329.6 207.6,330.9 208.1,331.8 208.5,337.3 208.9,334.0 209.3,330.2 209.7,330.8 210.2,328.2 210.6,327.3 211.0,327.7 211.4,327.6 211.8,324.9 212.3,326.1 212.7,325.0 213.1,325.6 213.5,323.3 213.9,323.8 214.4,321.9 214.8,326.0 215.2,323.5 215.6,323.7 216.0,320.6 216.5,321.0 216.9,318.3 217.3,315.1 217.7,307.4 218.1,304.7 218.6,308.3 219.0,299.3 219.4,300.4 219.8,300.9 220.2,296.7 220.7,294.6 221.1,288.2 221.5,287.8 221.9,282.9 222.3,284.6 222.8,280.4 223.2,285.4 223.6,281.5 224.0,280.1 224.4,284.0 224.9,287.5 225.3,287.1 225.7,292.0 226.1,286.7 226.5,286.7 227.0,288.4 227.4,289.7 227.8,285.7 228.2,283.8 228.6,286.6 229.1,283.3 229.5,285.6 229.9,283.6 230.3,281.0 230.7,280.5 231.2,281.3 231.6,281.0 232.0,279.4 232.4,278.8 232.8,277.1 233.3,279.2 233.7,278.5 234.1,275.2 234.5,274.7 234.9,273.6 235.4,270.7 235.8,264.1 236.2,266.8 236.6,271.0 237.0,268.2 237.5,264.7 237.9,269.7 238.3,271.0 238.7,277.3 239.2,284.3 239.6,284.5 240.1,286.0 240.5,294.0 240.9,291.2 241.3,297.1 241.7,302.4 242.1,304.8 242.5,311.1 242.9,311.7 243.3,309.7 243.7,306.8 244.2,306.6 244.6,306.3 245.0,304.5 245.4,302.6 245.8,299.0 246.2,297.2 246.7,297.5 247.1,292.6 247.5,292.0 247.9,295.8 248.3,292.3 248.7,294.7 249.0,293.6 249.4,294.3 249.8,301.0 250.3,302.3 250.7,299.9 251.2,301.8 251.6,307.4 251.9,308.0 252.3,311.9 252.7,318.3 253.0,319.0 253.4,319.1 253.9,314.2 254.3,311.2 254.8,309.2 255.2,304.5 255.6,304.1 255.9,298.1 256.2,291.3 256.6,292.9 257.0,290.1 257.4,291.1 257.8,291.4 258.1,289.6 258.5,289.1 258.9,279.4 259.3,281.5 259.7,278.5 260.1,281.0 260.6,284.2 261.0,287.4 261.4,283.6 261.8,278.6 262.2,281.3 262.7,281.6 263.1,281.3 263.5,280.0 263.9,283.1 264.3,281.7 264.8,293.0 265.2,290.1 265.6,294.1 266.0,290.9 266.4,290.6 266.9,287.7 267.3,285.6 267.7,279.4 268.1,276.1 268.5,275.2 268.9,272.1 269.2,267.7 269.6,261.8 270.0,266.8 270.4,265.9 270.9,265.9 271.3,265.0 271.8,261.6 272.2,260.5 272.6,258.7 272.9,260.1 273.3,251.1 273.6,251.9 274.0,250.0 274.4,249.0 274.8,245.6 275.2,240.3 275.6,242.0 276.0,241.3 276.4,237.7 276.8,234.1 277.1,234.3 277.5,235.3 277.9,237.4 278.3,232.1 278.7,231.0 279.1,227.6 279.5,223.8 279.8,223.9 280.2,223.4 280.6,223.0 281.1,226.9 281.5,228.3 282.0,226.0 282.4,218.6 282.8,220.1 283.2,220.4 283.6,215.5 284.0,220.7 284.4,222.2 284.8,215.1 285.1,220.0 285.5,215.3 285.9,215.1 286.3,218.4 286.7,213.3 287.1,217.0 287.5,215.0 287.8,212.5 288.2,213.4 288.6,213.9 289.0,213.6 289.3,207.3 289.7,209.3 290.1,205.9 290.5,196.6 290.9,200.1 291.3,201.2 291.6,198.8 292.0,197.0 292.4,198.0 292.7,196.5 293.1,196.7 293.5,197.5 293.9,192.3 294.3,191.0 294.7,191.6 295.1,190.9 295.5,186.9 295.8,188.7 296.2,183.5 296.6,181.9 297.0,181.3 297.4,178.9 297.8,177.2 298.1,177.9 298.5,176.5 298.9,175.0 299.3,176.4 299.6,170.1 300.0,172.9 300.3,169.9 300.7,172.2 301.1,166.1 301.5,171.9 301.9,167.4 302.2,165.4 302.6,162.8 303.0,165.3 303.4,163.3 303.8,163.0 304.1,157.1 304.5,157.6 304.9,159.8 305.3,156.2 305.7,153.7 306.1,152.4 306.5,147.9 306.8,151.1 307.2,146.9 307.6,147.0 308.0,145.2 308.4,144.8 308.8,143.8 309.1,136.2 309.5,142.7 309.9,140.1 310.3,141.7 310.7,141.8 311.0,143.6 311.4,148.1 311.8,147.4 312.2,149.3 312.6,145.2 313.0,144.3 313.4,145.5 313.7,143.2 314.1,140.6 314.5,135.6 314.9,134.7 315.3,131.5 315.6,133.6 316.0,129.8 316.4,127.6 316.8,124.1 317.2,123.3 317.7,119.9 318.1,123.4 318.6,121.8 319.0,119.5 319.4,118.8 319.8,120.3 320.1,122.2 320.5,119.6 320.9,125.2 321.3,124.1 321.7,122.3 322.1,119.8 322.5,112.7 322.8,109.5 323.2,109.9 323.6,105.8 324.0,103.4 324.4,101.5 324.8,99.2 325.1,96.6 325.5,97.4 325.9,94.3 326.3,91.7 326.7,87.9 327.1,82.9 327.5,80.6 328.0,82.0 328.4,80.9 328.9,79.3 329.3,78.3 329.7,78.2 330.1,76.5 330.5,73.3 330.8,74.9 331.2,71.4 331.6,71.4 332.0,71.8 332.4,72.3 332.8,72.6 333.1,74.3 333.5,73.7 333.9,73.7 334.3,73.1 334.7,73.4 335.0,72.1 335.4,71.9 335.8,71.1 336.2,70.3 336.6,69.7 337.0,70.5 337.4,69.3 337.7,69.1 338.1,70.4 338.5,69.3 338.9,69.8 339.3,69.8 339.6,69.1 340.0,69.1 340.4,70.5 340.8,69.2 341.2,69.3 341.6,70.0 342.1,69.4 342.5,68.3 342.9,68.6 343.3,69.2 343.7,69.4 344.1,68.2 344.6,68.8 345.0,67.9 345.4,68.0 345.8,67.4 346.2,69.7 346.5,68.1 346.9,68.7 347.3,70.5 347.7,70.4 348.0,70.5 348.4,72.3 348.8,72.6 349.2,72.1 349.6,72.2 350.1,70.2 350.5,71.3 350.9,70.5 351.4,70.2 351.8,70.5 352.2,69.2 352.6,70.6 353.0,69.8 353.4,69.9 353.8,69.8 354.1,70.4 354.5,70.3 354.9,69.5 355.3,69.5 355.7,70.3 356.1,72.8 356.5,73.9 356.9,77.2 357.2,77.4 357.6,80.9 358.0,82.9 358.4,84.7 358.8,82.2 359.1,83.6 359.5,83.3 359.9,82.5 360.3,80.6 360.7,80.6 361.1,80.0 361.5,82.2 361.8,82.1 362.2,80.2 362.6,81.8 363.0,81.5 363.5,80.3 363.9,79.3 364.3,80.9 364.7,76.4 365.1,79.3 365.6,79.5 366.0,77.2 366.4,75.6 366.9,77.1 367.3,74.2 367.7,74.4 368.1,72.3 368.5,72.4 369.0,69.9 369.4,71.4 369.8,71.3 370.2,70.9 370.6,71.1 371.0,70.9 371.3,70.5 371.7,68.9 372.1,67.3 372.5,66.8 372.9,66.9 373.3,66.7 373.7,65.5 374.0,65.4 374.4,65.4 374.8,64.6 375.2,64.2 375.5,64.2 375.9,64.2 376.3,62.9" fill="none" stroke="#7CAE00" stroke-width="1.45" stroke-linejoin="round"/>
<polyline points="121.9,358.7 122.3,359.4 122.7,361.5 123.0,364.6 123.4,366.4 123.8,369.0 124.2,374.9 124.5,373.1 124.9,375.5 125.3,377.1 125.7,373.2 126.1,370.8 126.5,367.9 126.9,365.0 127.2,364.2 127.6,365.0 128.0,363.3 128.4,363.8 128.8,358.5 129.1,358.5 129.5,355.7 129.9,349.3 130.3,352.5 130.7,349.0 131.0,353.2 131.4,352.8 131.8,351.1 132.2,349.9 132.6,352.8 132.9,354.9 133.3,360.2 133.7,356.3 134.1,360.3 134.5,359.4 134.9,366.2 135.2,364.4 135.6,365.0 136.0,366.7 136.4,366.4 136.8,366.2 137.2,368.6 137.6,366.4 137.9,364.9 138.3,364.1 138.7,363.3 139.1,362.3 139.5,365.9 139.8,363.8 140.2,361.7 140.6,360.2 141.0,361.8 141.4,365.1 141.9,361.6 142.3,365.7 142.8,369.2 143.2,371.7 143.6,370.8 144.0,369.1 144.3,372.3 144.7,369.1 145.1,368.7 145.5,366.4 145.9,365.6 146.3,370.0 146.7,368.6 147.0,369.1 147.4,370.0 147.8,369.4 148.2,368.4 148.6,362.8 149.0,363.8 149.4,364.1 149.7,364.3 150.1,358.4 150.5,355.0 150.9,354.2 151.3,355.5 151.7,356.7 152.1,355.6 152.4,354.6 152.8,357.3 153.2,360.3 153.6,359.4 153.9,363.9 154.3,364.1 154.7,365.3 155.1,365.4 155.4,371.5 155.8,368.5 156.2,369.4 156.6,368.3 157.0,367.9 157.3,367.2 157.7,362.4 158.1,363.2 158.5,360.3 158.9,360.9 159.3,357.3 159.7,352.7 160.0,355.4 160.4,348.5 160.8,349.6 161.2,348.0 161.6,352.3 161.9,355.6 162.3,353.5 162.7,352.5 163.1,354.2 163.5,350.5 163.9,353.3 164.3,352.0 164.8,349.2 165.2,344.1 165.6,346.3 166.0,346.9 166.4,343.5 166.7,345.5 167.1,343.6 167.5,345.2 167.9,347.5 168.3,350.1 168.8,355.2 169.2,354.2 169.6,359.2 170.0,362.5 170.3,361.5 170.7,364.1 171.1,364.8 171.5,367.9 171.9,370.3 172.2,372.9 172.6,371.7 173.0,374.0 173.4,371.9 173.8,371.3 174.2,367.8 174.5,366.8 174.9,361.5 175.3,364.8 175.7,365.1 176.0,367.8 176.4,367.9 176.8,364.4 177.2,364.2 177.6,361.8 178.1,358.2 178.5,358.0 178.9,352.0 179.3,351.7 179.7,347.9 180.1,354.7 180.5,353.0 180.9,355.1 181.4,351.1 181.8,356.0 182.2,356.5 182.6,355.5 183.0,359.2 183.4,359.4 183.7,361.0 184.1,355.0 184.5,357.4 184.9,360.6 185.3,356.8 185.7,356.3 186.2,359.6 186.6,357.0 187.0,361.0 187.4,361.2 187.8,362.9 188.1,363.9 188.5,366.5 188.8,368.9 189.2,369.2 189.6,364.8 189.9,364.0 190.3,359.3 190.7,360.3 191.1,362.0 191.4,364.1 191.8,359.2 192.2,361.2 192.5,358.9 192.9,362.8 193.2,356.2 193.6,359.3 193.9,361.2 194.3,354.8 194.7,356.0 195.0,350.7 195.5,346.5 196.0,346.9 196.4,349.6 196.8,348.7 197.2,349.5 197.6,344.9 198.0,350.2 198.4,348.9 198.8,348.0 199.2,343.8 199.7,337.4 200.1,336.5 200.5,338.4 200.9,338.6 201.3,336.0 201.8,338.7 202.2,338.9 202.6,338.2 203.0,334.1 203.4,333.4 203.9,334.1 204.3,327.6 204.7,330.0 205.1,334.1 205.6,333.4 206.0,336.0 206.4,334.1 206.7,332.1 207.1,335.5 207.4,332.2 207.8,334.0 208.2,330.2 208.6,329.0 209.0,329.0 209.4,331.2 209.8,325.9 210.2,326.7 210.6,326.0 211.0,323.5 211.4,320.0 211.8,322.8 212.3,322.9 212.7,321.8 213.1,321.4 213.5,321.1 213.9,322.5 214.4,321.4 214.8,328.3 215.2,325.6 215.6,325.4 216.0,331.2 216.4,331.3 216.8,335.0 217.1,336.0 217.5,340.1 217.9,339.3 218.3,338.2 218.7,339.1 219.1,339.0 219.5,341.5 219.9,342.1 220.3,342.9 220.7,338.8 221.1,339.9 221.5,340.4 221.9,343.9 222.3,348.9 222.8,347.1 223.2,345.5 223.6,348.9 224.0,354.7 224.4,352.1 224.9,358.1 225.3,357.6 225.7,356.0 226.1,356.1 226.5,356.2 226.9,348.5 227.2,351.3 227.6,348.4 228.0,352.7 228.4,354.8 228.8,353.1 229.2,352.4 229.6,351.6 230.1,348.8 230.5,341.5 230.9,338.4 231.3,335.8 231.6,337.7 232.0,336.4 232.4,336.1 232.9,337.9 233.3,340.5 233.8,340.8 234.2,345.1 234.6,349.1 235.0,351.6 235.5,354.6 235.9,354.2 236.3,350.9 236.7,350.3 237.2,351.8 237.6,356.0 238.1,351.6 238.5,355.2 238.9,356.3 239.4,351.8 239.8,356.8 240.3,350.5 240.7,352.0 241.1,351.7 241.4,351.1 241.8,349.5 242.2,347.4 242.5,344.7 242.9,345.1 243.3,343.6 243.7,343.8 244.2,339.0 244.6,337.2 245.0,337.8 245.4,337.0 245.9,329.7 246.3,333.4 246.8,338.0 247.2,332.0 247.6,335.0 247.9,335.9 248.3,337.1 248.7,333.8 249.0,331.1 249.4,330.6 249.8,329.6 250.3,330.4 250.7,327.9 251.2,328.6 251.6,324.8 252.0,322.1 252.4,321.6 252.9,322.2 253.3,322.0 253.7,323.3 254.1,329.3 254.4,330.8 254.8,337.8 255.2,334.9 255.6,328.6 255.9,327.9 256.2,327.5 256.6,324.8 257.0,326.3 257.4,331.3 257.7,329.5 258.1,333.5 258.6,337.6 259.0,340.3 259.5,342.2 259.9,341.5 260.4,342.8 260.8,342.7 261.3,340.6 261.7,345.1 262.1,348.7 262.4,346.9 262.8,349.6 263.2,352.3 263.6,350.4 263.9,354.5 264.2,357.2 264.6,359.6 265.0,359.2 265.4,355.7 265.7,352.0 266.1,348.0 266.5,344.3 266.9,341.3 267.4,337.7 267.8,335.0 268.2,332.0 268.6,333.0 269.1,330.8 269.5,331.8 270.0,330.7 270.4,329.1 270.8,327.8 271.1,335.7 271.5,337.1 271.9,334.9 272.3,336.2 272.7,340.1 273.2,342.1 273.6,342.5 274.0,342.2 274.4,341.6 274.9,339.7 275.3,346.7 275.8,348.8 276.2,348.0 276.6,347.3 277.1,346.3 277.5,342.9 278.0,345.3 278.4,343.6 278.8,340.4 279.1,334.9 279.5,333.2 279.9,331.0 280.2,328.2 280.6,324.8 281.0,321.8 281.4,318.2 281.9,311.8 282.3,311.0 282.7,304.5 283.1,304.4 283.4,306.9 283.8,301.3 284.2,300.1 284.6,302.3 284.9,305.3 285.2,306.8 285.6,308.8 286.0,312.8 286.5,312.6 286.9,316.9 287.4,311.0 287.8,316.1 288.3,316.5 288.7,313.0 289.2,313.2 289.6,319.8 289.9,321.8 290.3,326.8 290.7,332.0 291.1,334.8 291.6,332.8 292.0,336.4 292.4,335.9 292.8,331.5 293.2,331.3 293.6,329.5 294.0,329.3 294.4,331.3 294.8,331.4 295.2,337.5 295.6,335.1 296.0,336.8 296.4,339.4 296.8,339.9 297.2,339.7 297.6,340.1 298.0,342.2 298.4,338.3 298.8,343.9 299.2,346.3 299.6,344.7 300.0,346.3 300.4,339.6 300.8,344.8 301.2,343.8 301.6,340.3 302.0,339.9 302.4,335.7 302.8,337.4 303.2,338.7 303.6,332.4 304.0,333.3 304.4,335.6 304.8,329.3 305.2,326.5 305.6,327.1 306.0,323.4 306.4,323.4 306.8,328.4 307.2,323.9 307.6,324.9 308.0,327.1 308.4,325.7 308.8,321.9 309.2,326.4 309.6,323.6 310.0,322.5 310.5,319.6 310.9,323.9 311.3,323.5 311.7,326.5 312.1,322.0 312.5,323.8 312.9,321.8 313.3,319.4 313.7,313.1 314.1,315.9 314.5,309.8 314.9,312.4 315.3,320.2 315.7,314.8 316.1,313.9 316.5,313.7 316.9,314.0 317.3,314.6 317.7,311.7 318.1,305.4 318.5,313.1 318.9,311.5 319.3,311.2 319.7,311.1 320.1,319.4 320.5,316.0 320.9,317.4 321.3,320.1 321.7,323.9 322.0,321.4 322.4,326.5 322.8,327.6 323.2,328.9 323.6,326.8 324.0,323.1 324.4,319.4 324.9,313.3 325.3,313.8 325.7,313.0 326.1,308.0 326.5,306.2 326.9,314.3 327.3,310.6 327.7,315.6 328.1,319.2 328.5,316.2 328.9,313.8 329.3,307.0 329.8,308.0 330.2,302.6 330.6,299.3 331.0,294.9 331.4,293.3 331.8,292.8 332.2,290.1 332.6,287.1 333.0,285.3 333.4,278.3 333.8,281.3 334.2,282.1 334.6,277.0 335.0,278.5 335.4,277.3 335.8,272.1 336.2,268.3 336.6,270.0 337.0,272.2 337.4,264.6 337.8,264.1 338.2,262.8 338.6,260.6 339.1,259.8 339.5,256.0 339.9,248.7 340.3,252.0 340.7,250.3 341.1,248.8 341.5,240.5 341.9,242.4 342.3,236.8 342.7,234.9 343.1,236.2 343.5,233.4 343.9,232.4 344.3,230.3 344.7,227.6 345.1,229.2 345.5,227.2 345.9,225.1 346.3,219.5 346.7,217.2 347.1,213.2 347.5,205.0 348.0,204.6 348.4,204.9 348.8,196.7 349.2,196.0 349.6,191.3 350.0,191.7 350.4,188.7 350.8,192.7 351.2,195.5 351.6,205.8 352.0,205.3 352.4,212.2 352.8,209.0 353.2,209.2 353.6,204.4 354.0,205.6 354.5,205.5 354.9,202.7 355.3,199.9 355.7,199.2 356.1,196.5 356.5,194.3 356.9,194.9 357.3,195.5 357.7,195.8 358.1,196.3 358.5,194.5 358.9,192.7 359.3,191.7 359.7,191.5 360.1,190.7 360.5,184.3 361.0,188.7 361.4,189.6 361.8,187.8 362.2,184.0 362.6,181.1 363.0,179.7 363.4,180.4 363.7,175.6 364.1,176.2 364.5,172.0 364.9,169.2 365.2,169.8 365.6,168.5 366.0,160.8 366.4,160.1 366.8,156.3 367.1,153.8 367.5,149.5 367.9,148.0 368.3,144.7 368.7,139.2 369.1,139.8 369.5,135.0 369.8,129.9 370.2,131.7 370.6,128.7 371.0,129.1 371.4,125.3 371.8,121.5 372.1,118.6 372.5,120.2 372.9,117.2 373.3,113.9 373.6,110.1 374.0,109.5 374.4,106.9 374.8,105.4 375.1,106.5 375.5,104.8 375.9,108.3 376.3,104.6 376.6,102.9 377.0,104.4 377.4,102.4 377.8,100.9 378.1,100.8 378.5,97.8 378.9,98.0 379.3,96.7 379.6,94.0 380.0,92.3 380.4,89.1 380.8,87.0 381.1,85.6 381.5,84.5 381.9,83.1 382.3,79.6 382.8,79.9 383.2,79.8 383.6,79.4 384.0,80.9 384.4,79.3 384.8,81.7 385.2,84.6 385.6,88.1 386.0,89.8 386.5,89.0 387.0,86.9 387.4,85.3 387.8,88.3 388.1,88.2 388.5,90.6 388.9,89.0 389.2,86.1 389.6,84.7 390.0,84.6 390.4,83.9 390.8,81.3 391.1,80.8 391.5,80.2 391.9,81.1 392.4,76.9 392.8,76.7 393.3,77.0 393.7,75.7 394.1,76.9 394.6,74.9 395.0,73.1 395.5,72.7 395.9,72.8 396.3,71.5 396.6,70.7 397.0,71.1 397.4,70.7 397.7,69.5 398.1,69.1 398.5,69.0 398.9,68.2 399.2,69.4 399.6,68.3 400.0,68.5 400.4,70.4 400.8,71.1 401.1,69.9 401.5,72.1 401.9,72.8 402.3,73.3 402.6,74.3 403.0,73.0 403.4,73.8 403.7,72.2 404.1,73.5 404.5,74.0 405.0,73.0 405.4,71.5 405.9,71.9 406.3,72.0 406.7,72.0 407.2,70.0 407.6,70.2 408.1,70.3 408.5,69.8 408.9,68.8 409.4,68.4 409.8,69.1 410.3,67.5 410.7,66.9 411.1,66.9 411.4,67.0 411.8,66.9 412.2,67.3 412.6,66.8 412.9,66.9 413.3,67.5 413.7,67.6 414.1,67.0 414.5,67.7 414.9,67.7 415.3,67.7 415.8,67.7 416.2,66.8 416.6,66.4 417.0,66.9 417.4,66.9 417.8,66.4 418.1,67.8 418.5,67.0 418.9,67.0 419.3,67.3 419.6,67.8 420.0,67.4 420.4,67.6 420.8,67.8 421.1,69.0 421.5,71.0 421.9,69.8 422.2,71.4 422.6,71.3 423.0,72.1 423.5,73.1 423.9,72.9 424.4,73.0 424.8,73.5 425.2,72.6 425.7,72.8 426.1,72.5 426.6,71.8 427.0,72.8 427.4,71.2 427.8,72.0 428.1,70.3 428.5,72.0 428.9,70.4 429.3,70.6 429.8,71.0 430.2,73.3 430.7,74.3 431.1,72.9 431.4,72.6 431.8,70.3 432.2,71.3 432.6,71.5 432.9,70.1 433.3,69.9 433.7,70.3 434.1,69.9 434.4,69.3 434.8,69.0 435.2,68.3 435.6,67.5 436.0,66.7 436.4,67.4 436.9,67.1 437.3,67.8 437.7,67.2 438.1,66.9 438.5,67.3 438.9,66.3 439.3,67.1 439.7,66.8 440.1,65.6 440.6,66.9 441.0,67.1 441.4,66.0 441.8,66.0 442.2,65.9 442.6,66.1 443.0,66.3 443.4,65.8 443.7,65.8 444.1,66.7 444.5,65.1 444.9,65.8 445.2,65.4 445.6,65.4 446.0,64.9 446.4,64.7 446.8,64.7 447.3,64.2 447.7,64.2 448.1,64.2 448.5,63.5 448.9,64.2 449.2,64.2 449.6,64.2 450.0,64.2 450.4,64.2 450.8,64.2 451.1,64.2 451.5,63.2 451.9,64.2 452.3,64.2 452.7,64.2 453.2,64.2 453.6,64.2 454.0,64.2 454.4,62.9" fill="none" stroke="#00BE67" stroke-width="1.45" stroke-linejoin="round"/>
<polyline points="121.9,247.2 122.3,246.1 122.6,245.0 123.0,242.0 123.5,240.0 123.9,240.4 124.3,238.1 124.8,236.6 125.2,239.3 125.5,233.4 125.9,233.8 126.3,232.6 126.7,225.4 127.0,228.0 127.4,220.8 127.8,219.0 128.2,218.0 128.7,207.8 129.1,210.3 129.5,206.3 129.9,212.9 130.3,210.4 130.6,208.9 131.0,203.0 131.4,196.3 131.8,199.8 132.2,197.7 132.7,200.5 133.1,195.6 133.5,193.9 134.0,195.0 134.4,194.5 134.8,193.5 135.3,190.4 135.8,194.4 136.2,189.3 136.6,185.2 137.1,184.6 137.5,184.8 137.9,185.8 138.4,182.1 138.8,180.5 139.2,178.4 139.7,172.7 140.1,174.6 140.5,173.5 140.9,169.9 141.3,164.9 141.8,162.8 142.2,161.5 142.7,156.3 143.1,154.0 143.6,152.1 144.0,147.0 144.4,146.7 144.9,142.0 145.3,139.0 145.8,137.3 146.2,133.9 146.7,129.7 147.0,127.6 147.3,121.7 147.8,120.0 148.2,115.3 148.7,115.0 149.1,114.0 149.6,114.8 150.0,112.3 150.4,111.1 150.8,113.6 151.2,116.2 151.6,115.4 152.0,115.0 152.4,116.9 152.9,111.1 153.3,111.0 153.8,108.8 154.2,109.8 154.7,108.3 155.1,107.2 155.5,107.2 155.9,106.9 156.3,104.2 156.7,103.0 157.1,101.4 157.6,100.4 158.0,95.1 158.4,98.0 158.8,98.9 159.3,101.8 159.7,104.5 160.1,103.0 160.5,100.5 160.9,100.2 161.3,96.4 161.7,94.2 162.1,92.4 162.5,90.5 162.9,87.6 163.3,88.8 163.7,84.4 164.1,82.6 164.4,81.2 164.8,82.2 165.2,80.9 165.6,81.5 166.0,78.8 166.3,79.2 166.7,79.4 167.1,78.5 167.5,77.3 167.9,76.8 168.3,75.5 168.7,74.3 169.0,76.5 169.4,75.3 169.8,75.0 170.2,72.2 170.7,71.4 171.1,74.1 171.6,72.1 172.0,73.6 172.4,73.8 172.8,74.2 173.1,72.0 173.5,71.0 173.9,70.6 174.2,69.9 174.6,69.2 175.0,70.6 175.4,70.5 175.9,70.0 176.3,70.4 176.8,69.8 177.2,69.1 177.6,68.2 178.0,68.0 178.3,67.1 178.7,67.2 179.1,66.7 179.5,66.5 179.9,65.6 180.3,66.0 180.8,65.5 181.2,65.8 181.6,65.3 182.0,65.0 182.4,65.0 182.8,65.0 183.2,64.5 183.6,64.7 184.1,64.5 184.5,64.8 184.9,64.2 185.3,64.2 185.7,64.2 186.1,63.6 186.5,64.2 186.9,64.2 187.3,64.2 187.8,64.2 188.2,64.3 188.6,64.2 189.0,64.2 189.4,64.5 189.8,64.2 190.1,64.2 190.5,64.2 190.9,64.2 191.2,64.2 191.6,64.2 192.0,63.5 192.4,64.2 192.8,64.2 193.2,64.2 193.5,64.2 193.9,64.2 194.3,62.9" fill="none" stroke="#00BFC4" stroke-width="1.45" stroke-linejoin="round"/>
<polyline points="121.9,247.2 122.3,248.4 122.6,255.1 123.0,257.6 123.5,254.4 123.9,247.3 124.3,239.6 124.8,236.6 125.2,231.4 125.7,231.7 126.1,225.3 126.5,222.6 126.9,223.1 127.2,220.8 127.6,217.0 127.9,214.6 128.3,212.1 128.7,213.6 129.2,208.8 129.6,201.5 130.0,203.3 130.4,198.2 130.7,197.8 131.1,196.9 131.4,200.1 131.8,192.8 132.2,189.4 132.6,182.7 133.0,180.0 133.4,174.9 133.8,168.3 134.2,164.0 134.6,164.4 134.9,159.5 135.3,153.7 135.7,154.7 136.1,149.3 136.5,149.8 136.9,152.0 137.3,148.3 137.8,146.8 138.2,143.6 138.7,144.3 139.1,143.9 139.6,140.4 140.0,139.0 140.4,135.7 140.9,133.8 141.3,131.0 141.8,129.3 142.2,127.2 142.7,123.0 143.0,122.5 143.3,117.7 143.8,118.1 144.2,114.9 144.7,115.0 145.1,112.6 145.5,111.5 145.9,110.2 146.3,112.0 146.7,112.3 147.1,109.7 147.5,112.3 147.9,108.0 148.3,108.5 148.7,108.3 149.1,106.4 149.6,105.8 150.0,104.3 150.4,99.5 150.9,98.9 151.3,100.3 151.8,99.1 152.2,97.8 152.7,96.3 153.1,96.8 153.6,93.8 154.0,96.4 154.4,93.9 154.8,94.8 155.2,93.7 155.6,93.2 156.0,90.4 156.4,93.9 156.8,93.6 157.2,90.0 157.6,89.3 158.0,84.2 158.4,85.6 158.8,86.8 159.2,87.4 159.7,84.2 160.1,83.7 160.5,84.4 160.9,85.0 161.3,84.4 161.7,84.7 162.1,82.8 162.5,82.8 162.9,80.1 163.2,79.1 163.6,79.6 164.0,80.0 164.4,80.1 164.8,78.1 165.3,79.3 165.7,77.0 166.1,75.8 166.5,75.2 166.9,75.7 167.3,75.5 167.7,74.9 168.2,73.2 168.6,76.3 169.0,74.3 169.4,72.9 169.8,72.8 170.2,72.0 170.6,72.5 171.0,71.6 171.4,72.7 171.9,71.9 172.3,71.8 172.7,70.9 173.1,70.9 173.5,71.0 173.9,70.4 174.2,69.6 174.6,70.1 175.0,69.5 175.4,70.0 175.8,68.7 176.1,67.8 176.5,67.6 176.9,66.8 177.4,66.4 177.8,66.6 178.3,65.5 178.7,64.7 179.1,64.2 179.4,64.2 179.8,64.2 180.2,63.5 180.6,64.2 181.0,64.2 181.4,64.2 181.8,64.2 182.2,64.2 182.6,64.3 183.0,63.8 183.4,64.2 183.8,64.2 184.1,64.2 184.5,64.2 184.9,64.2 185.2,64.2 185.6,64.2 186.0,63.3 186.4,64.2 186.8,64.2 187.1,64.2 187.5,64.2 187.9,64.2 188.2,64.2 188.6,64.2 189.0,63.9 189.4,64.2 189.8,64.2 190.1,64.2 190.5,64.2 190.9,64.2 191.2,64.2 191.6,64.2 192.0,63.4 192.4,64.2 192.8,64.2 193.1,64.2 193.5,64.2 193.9,64.2 194.2,64.2 194.6,64.2 195.0,62.9" fill="none" stroke="#00A9FF" stroke-width="1.45" stroke-linejoin="round"/>
<polyline points="121.9,139.2 122.4,132.9 122.9,126.5 123.3,125.3 123.7,125.1 124.1,125.0 124.4,122.2 124.8,121.1 125.2,118.2 125.6,116.0 126.0,115.0 126.4,114.1 126.8,115.3 127.2,111.2 127.6,110.0 128.0,111.4 128.4,110.9 128.8,111.7 129.2,110.5 129.5,106.8 129.9,106.5 130.3,107.8 130.7,108.6 131.1,104.9 131.4,107.1 131.8,104.4 132.2,102.9 132.6,103.3 133.0,100.7 133.4,101.4 133.8,102.0 134.1,102.7 134.5,100.4 134.9,100.4 135.3,103.7 135.8,99.9 136.2,96.3 136.6,97.0 137.0,98.8 137.3,96.2 137.7,94.6 138.0,97.2 138.4,94.0 138.8,89.7 139.3,87.3 139.7,85.4 140.1,88.1 140.6,86.6 141.0,90.7 141.3,89.4 141.7,91.1 142.1,93.0 142.4,93.4 142.8,89.6 143.2,92.9 143.6,90.6 144.0,89.7 144.4,87.4 144.8,89.0 145.2,84.5 145.6,84.0 146.0,84.1 146.4,83.4 146.8,81.4 147.2,81.9 147.6,81.4 148.0,81.4 148.4,80.0 148.8,79.5 149.2,78.1 149.6,79.3 150.0,78.5 150.4,78.7 150.8,77.8 151.2,79.8 151.6,77.0 152.0,77.9 152.4,76.7 152.8,75.7 153.2,77.4 153.6,77.0 154.0,75.6 154.4,75.4 154.8,74.0 155.2,74.8 155.7,74.8 156.1,74.2 156.5,75.0 156.9,72.9 157.3,73.8 157.6,73.7 158.0,71.5 158.4,73.3 158.8,75.4 159.3,75.6 159.7,75.1 160.2,77.4 160.6,78.5 161.0,77.2 161.4,79.9 161.8,80.2 162.1,79.1 162.5,78.7 162.9,80.5 163.3,79.7 163.7,81.3 164.2,80.9 164.6,79.3 165.0,79.4 165.4,79.9 165.8,84.2 166.1,83.7 166.5,84.0 166.9,86.0 167.3,87.5 167.8,91.8 168.2,94.2 168.6,92.8 169.0,91.0 169.5,88.8 169.9,88.0 170.3,86.5 170.7,85.4 171.2,83.8 171.6,84.2 172.0,82.8 172.4,82.8 172.8,81.0 173.2,80.4 173.6,80.6 174.0,78.1 174.4,77.5 174.8,77.9 175.2,75.8 175.6,75.4 176.0,75.0 176.4,73.9 176.8,72.9 177.2,73.3 177.6,73.6 178.0,72.0 178.4,73.8 178.8,74.3 179.2,73.9 179.6,73.2 180.0,74.0 180.4,73.7 180.8,74.4 181.2,75.5 181.6,74.0 182.0,75.4 182.4,76.0 182.8,76.1 183.2,75.5 183.6,76.1 184.0,78.0 184.4,78.0 184.8,77.0 185.2,75.6 185.6,75.3 186.0,75.4 186.4,74.3 186.8,77.4 187.2,77.0 187.6,78.3 188.0,80.7 188.3,79.6 188.7,82.4 189.1,83.3 189.4,86.0 189.8,83.7 190.3,82.0 190.7,79.4 191.1,78.7 191.5,78.5 191.9,75.2 192.3,73.6 192.7,74.0 193.1,75.1 193.5,74.6 193.9,75.8 194.3,74.6 194.7,76.0 195.1,77.4 195.5,75.5 195.9,78.7 196.3,77.5 196.7,78.7 197.1,78.3 197.5,77.7 197.9,79.0 198.3,79.7 198.7,80.7 199.1,80.7 199.5,81.2 199.9,80.7 200.3,81.1 200.7,82.0 201.1,81.3 201.5,83.1 201.9,82.9 202.3,84.1 202.7,85.4 203.1,85.7 203.5,85.7 203.9,87.8 204.3,87.3 204.7,87.4 205.1,87.9 205.5,89.2 205.9,88.1 206.3,90.4 206.7,91.4 207.1,90.1 207.6,89.4 208.0,87.4 208.3,87.5 208.7,84.8 209.1,83.7 209.4,82.0 209.8,80.6 210.2,81.2 210.6,80.3 211.0,80.4 211.4,78.7 211.8,77.7 212.2,78.5 212.6,78.7 213.0,77.0 213.4,78.0 213.8,77.4 214.2,78.1 214.6,79.6 215.0,80.0 215.4,79.7 215.8,80.6 216.2,81.1 216.5,80.1 216.9,79.1 217.3,79.9 217.7,79.6 218.1,77.9 218.5,76.8 218.9,75.9 219.3,74.4 219.7,75.2 220.1,73.8 220.5,72.6 220.9,72.6 221.3,72.9 221.7,72.3 222.1,70.9 222.6,70.2 223.0,70.0 223.4,70.1 223.8,69.4 224.2,68.1 224.6,69.5 225.0,68.7 225.4,69.5 225.8,68.6 226.2,69.4 226.6,68.5 227.0,68.4 227.4,69.0 227.8,67.3 228.2,67.4 228.6,67.3 229.0,66.4 229.4,66.7 229.8,66.0 230.2,66.0 230.6,65.9 231.0,66.3 231.4,65.1 231.7,65.2 232.1,64.8 232.5,66.3 232.9,65.0 233.3,65.7 233.7,65.6 234.1,65.3 234.4,67.1 234.8,66.5 235.2,66.7 235.6,67.2 236.0,67.5 236.4,68.4 236.8,68.3 237.2,68.4 237.6,69.6 238.0,69.8 238.4,71.9 238.9,73.3 239.3,73.7 239.8,71.0 240.2,72.2 240.7,71.6 241.1,70.7 241.6,70.8 242.0,70.6 242.4,69.8 242.8,69.9 243.2,69.8 243.6,71.0 243.9,69.7 244.3,68.7 244.7,69.2 245.1,69.8 245.5,69.8 245.8,71.0 246.2,69.2 246.5,71.3 246.9,70.7 247.3,70.7 247.8,72.6 248.2,71.7 248.7,73.3 249.1,74.2 249.6,77.6 250.0,79.6 250.4,80.3 250.7,80.1 251.1,78.0 251.4,79.5 251.8,80.4 252.2,81.7 252.7,82.8 253.2,89.1 253.6,88.4 254.0,91.7 254.4,89.6 254.9,92.2 255.3,93.8 255.7,93.5 256.0,97.4 256.4,98.4 256.7,100.6 257.1,100.0 257.5,98.2 258.0,93.6 258.4,90.2 258.8,89.4 259.1,88.3 259.4,93.0 259.8,92.9 260.2,90.3 260.7,87.8 261.1,86.7 261.6,86.1 262.0,82.8 262.4,85.5 262.9,83.1 263.3,83.3 263.6,80.0 264.0,79.6 264.3,78.8 264.7,78.7 265.1,76.3 265.5,76.0 266.0,75.0 266.4,75.1 266.8,74.5 267.2,72.9 267.5,72.9 267.9,72.1 268.3,73.9 268.7,72.9 269.1,73.0 269.6,73.5 270.0,72.2 270.5,73.0 270.9,74.2 271.3,76.3 271.6,75.9 272.0,74.3 272.3,76.3 272.7,75.6 273.1,74.4 273.5,74.1 274.0,73.0 274.4,72.4 274.8,71.4 275.2,72.7 275.6,74.1 275.9,74.0 276.3,75.2 276.7,75.6 277.1,76.4 277.5,76.9 278.0,76.9 278.4,75.7 278.9,77.8 279.3,76.0 279.7,76.0 280.1,77.4 280.5,75.7 280.8,76.3 281.2,76.4 281.6,77.3 282.0,77.6 282.5,74.2 282.9,76.7 283.3,75.1 283.7,74.8 284.0,74.8 284.4,73.5 284.7,71.2 285.1,71.6 285.5,70.4 285.9,71.0 286.3,71.6 286.7,71.5 287.1,70.6 287.5,71.4 287.9,70.3 288.3,70.8 288.7,69.8 289.1,69.4 289.5,69.4 289.9,68.1 290.4,68.3 290.8,67.3 291.2,67.7 291.6,66.6 292.0,66.4 292.4,67.2 292.8,65.4 293.3,67.1 293.7,66.1 294.1,66.6 294.5,66.7 294.9,66.9 295.4,66.1 295.8,66.4 296.2,67.4 296.6,67.0 297.0,67.9 297.4,68.1 297.8,68.3 298.2,68.5 298.7,68.2 299.1,68.1 299.5,68.3 299.9,68.7 300.3,68.5 300.7,68.4 301.1,66.9 301.6,68.3 302.0,68.9 302.4,68.1 302.8,67.0 303.2,67.5 303.7,66.5 304.1,66.8 304.5,67.4 304.9,67.9 305.3,66.6 305.7,65.7 306.1,66.5 306.6,65.4 307.0,65.2 307.4,65.8 307.8,65.3 308.2,65.2 308.6,64.3 309.0,64.2 309.4,64.2 309.8,64.2 310.1,64.2 310.5,64.2 310.9,64.2 311.3,64.2 311.7,62.9" fill="none" stroke="#C77CFF" stroke-width="1.45" stroke-linejoin="round"/>
<polyline points="121.9,139.2 122.4,137.0 122.9,125.9 123.3,124.2 123.7,119.1 124.1,119.6 124.4,120.9 124.8,118.5 125.2,117.8 125.6,117.7 126.0,118.8 126.4,116.3 126.8,111.9 127.2,113.3 127.6,109.8 128.0,111.0 128.4,110.2 128.8,108.5 129.2,108.8 129.6,109.8 130.0,108.3 130.4,106.6 130.9,102.1 131.3,106.5 131.7,105.2 132.2,103.2 132.6,104.0 133.0,102.1 133.4,103.6 133.8,106.1 134.1,105.2 134.5,102.0 134.9,100.1 135.3,101.0 135.7,98.1 136.1,98.1 136.4,96.6 136.8,100.2 137.2,98.9 137.6,99.5 137.9,100.6 138.3,102.9 138.8,102.5 139.3,105.7 139.8,109.9 140.2,110.5 140.7,109.7 141.1,108.7 141.5,109.6 141.9,108.4 142.3,107.5 142.7,105.7 143.1,104.2 143.5,105.5 143.8,104.6 144.2,102.6 144.6,103.4 145.0,102.0 145.4,101.8 145.8,103.5 146.2,97.4 146.5,101.0 146.9,99.4 147.3,100.3 147.7,100.1 148.2,101.4 148.6,97.9 149.0,98.5 149.4,97.3 149.8,96.5 150.1,94.7 150.5,97.0 150.9,98.5 151.3,97.1 151.7,95.4 152.1,92.7 152.6,93.9 153.0,90.7 153.3,88.8 153.7,90.0 154.1,91.2 154.4,87.4 154.8,86.2 155.3,86.5 155.7,84.0 156.1,83.0 156.6,84.2 157.0,81.4 157.3,81.3 157.7,82.9 158.1,82.9 158.4,82.0 158.8,80.4 159.3,80.9 159.7,79.4 160.1,79.0 160.5,78.7 160.9,75.6 161.2,77.2 161.6,76.9 162.0,77.0 162.4,76.7 162.8,76.6 163.3,78.4 163.7,77.4 164.1,77.0 164.6,77.9 165.0,78.0 165.4,77.9 165.8,78.5 166.2,79.8 166.5,79.5 166.9,78.0 167.3,79.3 167.7,78.7 168.1,79.2 168.5,79.4 168.8,78.2 169.2,77.5 169.6,78.4 170.0,78.0 170.4,79.5 170.8,78.3 171.2,76.9 171.6,75.7 172.0,75.8 172.4,73.8 172.8,74.8 173.2,74.9 173.5,74.3 173.9,72.8 174.3,73.6 174.7,72.8 175.2,72.5 175.6,73.0 176.1,70.4 176.5,72.1 176.9,71.4 177.2,70.4 177.6,70.4 178.0,69.9 178.3,69.4 178.7,69.1 179.1,69.4 179.4,69.1 179.8,68.7 180.2,68.9 180.7,68.2 181.1,67.4 181.5,67.5 181.9,66.9 182.3,66.8 182.7,66.9 183.1,66.2 183.4,66.2 183.8,65.8 184.2,65.7 184.6,65.6 185.0,66.0 185.4,66.4 185.7,65.1 186.1,65.8 186.5,65.8 186.9,65.9 187.2,66.1 187.6,66.1 188.0,66.0 188.4,65.4 188.8,65.6 189.2,65.7 189.6,65.6 190.0,65.7 190.4,66.3 190.8,65.6 191.2,65.5 191.6,65.1 192.0,65.4 192.4,65.5 192.8,65.9 193.2,65.0 193.6,65.7 194.0,65.2 194.5,65.7 194.9,65.7 195.3,65.1 195.7,65.4 196.1,64.9 196.5,65.0 196.9,65.0 197.3,64.3 197.7,64.5 198.2,64.5 198.6,64.2 199.0,64.2 199.4,63.9 199.8,64.2 200.2,64.2 200.5,64.2 200.9,64.2 201.3,62.9" fill="none" stroke="#FF61CC" stroke-width="1.45" stroke-linejoin="round"/>
<polyline points="121.9,413.0 122.5,412.7 123.0,412.4 123.6,412.1 124.2,411.9 124.7,411.6 125.3,411.3 125.8,411.0 126.4,410.8 127.0,410.5 127.5,410.2 128.1,410.0 128.7,409.7 129.2,409.4 129.8,409.2 130.4,408.9 130.9,408.7 131.5,408.4 132.0,408.1 132.6,407.9 133.2,407.6 133.7,407.4 134.3,407.1 134.9,406.9 135.4,406.6 136.0,406.4 136.6,406.1 137.1,405.9 137.7,405.6 138.2,405.4 138.8,405.1 139.4,404.9 139.9,404.6 140.5,404.4 141.1,404.1 141.6,403.9 142.2,403.7 142.7,403.4 143.3,403.2 143.9,402.9 144.4,402.7 145.0,402.5 145.6,402.2 146.1,402.0 146.7,401.7 147.3,401.5 147.8,401.3 148.4,401.0 148.9,400.8 149.5,400.6 150.1,400.3 150.6,400.1 151.2,399.8 151.8,399.6 152.3,399.4 152.9,399.1 153.5,398.9 154.0,398.7 154.6,398.4 155.1,398.2 155.7,398.0 156.3,397.8 156.8,397.5 157.4,397.3 158.0,397.1 158.5,396.8 159.1,396.6 159.7,396.4 160.2,396.1 160.8,395.9 161.3,395.7 161.9,395.4 162.5,395.2 163.0,395.0 163.6,394.8 164.2,394.5 164.7,394.3 165.3,394.1 165.9,393.8 166.4,393.6 167.0,393.4 167.5,393.1 168.1,392.9 168.7,392.7 169.2,392.5 169.8,392.2 170.4,392.0 170.9,391.8 171.5,391.5 172.1,391.3 172.6,391.1 173.2,390.8 173.7,390.6 174.3,390.4 174.9,390.1 175.4,389.9 176.0,389.7 176.6,389.5 177.1,389.2 177.7,389.0 178.2,388.8 178.8,388.5 179.4,388.3 179.9,388.1 180.5,387.8 181.1,387.6 181.6,387.4 182.2,387.1 182.8,386.9 183.3,386.7 183.9,386.4 184.4,386.2 185.0,385.9 185.6,385.7 186.1,385.5 186.7,385.2 187.3,385.0 187.8,384.8 188.4,384.5 189.0,384.3 189.5,384.0 190.1,383.8 190.6,383.6 191.2,383.3 191.8,383.1 192.3,382.8 192.9,382.6 193.5,382.3 194.0,382.1 194.6,381.9 195.2,381.6 195.7,381.4 196.3,381.1 196.8,380.9 197.4,380.6 198.0,380.4 198.5,380.1 199.1,379.9 199.7,379.6 200.2,379.4 200.8,379.1 201.4,378.9 201.9,378.6 202.5,378.3 203.0,378.1 203.6,377.8 204.2,377.6 204.7,377.3 205.3,377.0 205.9,376.8 206.4,376.5 207.0,376.3 207.6,376.0 208.1,375.7 208.7,375.5 209.2,375.2 209.8,374.9 210.4,374.6 210.9,374.4 211.5,374.1 212.1,373.8 212.6,373.6 213.2,373.3 213.8,373.0 214.3,372.7 214.9,372.4 215.4,372.1 216.0,371.9 216.6,371.6 217.1,371.3 217.7,371.0 218.3,370.7 218.8,370.4 219.4,370.1 219.9,369.8 220.5,369.5 221.1,369.2 221.6,368.9 222.2,368.6 222.8,368.3 223.3,368.0 223.9,367.7 224.5,367.4 225.0,367.1 225.6,366.7 226.1,366.4 226.7,366.1 227.3,365.8 227.8,365.4 228.4,365.1 229.0,364.8 229.5,364.4 229.9,364.2 230.3,364.0 230.7,363.8 231.0,363.5 231.4,363.3 231.8,363.1 232.2,362.8 232.5,362.6 232.9,362.4 233.3,362.1 233.7,361.9 234.0,361.6 234.4,361.4 234.8,361.2 235.2,360.9 235.5,360.7 235.9,360.4 236.3,360.2 236.7,359.9 237.0,359.7 237.4,359.4 237.8,359.2 238.2,358.9 238.5,358.6 238.9,358.4 239.3,358.1 239.7,357.8 240.0,357.6 240.4,357.3 240.8,357.0 241.2,356.7 241.5,356.5 241.9,356.2 242.3,355.9 242.7,355.6 243.1,355.3 243.4,355.0 243.8,354.7 244.2,354.5 244.6,354.2 244.9,353.9 245.3,353.5 245.7,353.2 246.1,352.9 246.4,352.6 246.8,352.3 247.2,352.0 247.6,351.7 247.9,351.3 248.3,351.0 248.7,350.7 249.1,350.3 249.4,350.0 249.8,349.7 250.2,349.3 250.6,349.0 250.9,348.6 251.3,348.2 251.7,347.9 252.1,347.5 252.4,347.1 252.8,346.8 253.2,346.4 253.6,346.0 253.9,345.6 254.3,345.2 254.7,344.8 255.1,344.4 255.4,344.0 255.8,343.5 256.2,343.1 256.6,342.7 257.0,342.2 257.3,341.8 257.7,341.3 258.1,340.9 258.5,340.4 258.8,339.9 259.2,339.5 259.6,339.0 260.0,338.5 260.3,338.0 260.7,337.4 261.1,336.9 261.5,336.4 261.8,335.8 262.2,335.3 262.6,334.7 263.0,334.1 263.3,333.6 263.7,333.0 264.1,332.3 264.5,331.7 264.8,331.1 265.2,330.4 265.6,329.8 266.0,329.1 266.3,328.4 266.7,327.7 267.1,327.0 267.5,326.2 267.8,325.5 268.2,324.7 268.6,323.9 269.0,323.1 269.3,322.3 269.5,321.8 269.7,321.4 269.9,321.0 270.1,320.5 270.3,320.1 270.5,319.7 270.7,319.2 270.9,318.7 271.0,318.3 271.2,317.8 271.4,317.3 271.6,316.9 271.8,316.4 272.0,315.9 272.2,315.4 272.4,314.9 272.5,314.4 272.7,313.9 272.9,313.4 273.1,312.8 273.3,312.3 273.5,311.8 273.7,311.2 273.9,310.7 274.0,310.1 274.2,309.6 274.4,309.0 274.6,308.4 274.8,307.8 275.0,307.3 275.2,306.7 275.4,306.1 275.5,305.5 275.7,304.9 275.9,304.2 276.1,303.6 276.3,303.0 276.5,302.4 276.7,301.7 276.9,301.1 277.0,300.4 277.2,299.7 277.4,299.1 277.6,298.4 277.8,297.7 278.0,297.0 278.2,296.3 278.4,295.6 278.6,294.9 278.7,294.2 278.9,293.5 279.1,292.8 279.3,292.0 279.5,291.3 279.7,290.5 279.9,289.8 280.1,289.0 280.2,288.2 280.4,287.5 280.6,286.7 280.8,285.9 281.0,285.1 281.2,284.3 281.4,283.5 281.6,282.7 281.7,281.8 281.9,281.0 282.1,280.1 282.3,279.3 282.5,278.4 282.7,277.6 282.9,276.7 283.1,275.8 283.2,274.9 283.4,274.0 283.6,273.1 283.8,272.2 284.0,271.3 284.2,270.3 284.4,269.4 284.6,268.4 284.8,267.5 284.9,266.5 285.1,265.5 285.3,264.5 285.5,263.6 285.7,262.5 285.9,261.5 286.1,260.5 286.3,259.5 286.4,258.4 286.6,257.4 286.8,256.3 287.0,255.2 287.2,254.2 287.4,253.1 287.6,252.0 287.8,250.9 287.9,249.7 288.1,248.6 288.3,247.5 288.5,246.3 288.7,245.2 288.9,244.0 289.1,242.8 289.3,241.6 289.4,240.4 289.6,239.2 289.8,238.0 290.0,236.8 290.2,235.5 290.4,234.3 290.6,233.0 290.8,231.8 290.9,230.5 291.1,229.2 291.3,227.9 291.5,226.6 291.7,225.3 291.9,224.0 292.1,222.6 292.3,221.3 292.5,220.0 292.6,218.6 292.8,217.2 293.0,215.9 293.2,214.5 293.4,213.1 293.6,211.7 293.8,210.3 294.0,208.9 294.1,207.5 294.3,206.1 294.5,204.7 294.7,203.3 294.9,201.8 295.1,200.4 295.3,198.9 295.5,197.5 295.6,196.0 295.8,194.6 296.0,193.1 296.2,191.7 296.4,190.2 296.6,188.7 296.8,187.3 297.0,185.8 297.1,184.3 297.3,182.8 297.5,181.4 297.7,179.9 297.9,178.4 298.1,176.9 298.3,175.5 298.5,174.0 298.7,172.5 298.8,171.0 299.0,169.6 299.2,168.1 299.4,166.6 299.6,165.1 299.8,163.7 300.0,162.2 300.2,160.7 300.3,159.3 300.5,157.8 300.7,156.4 300.9,155.0 301.1,153.5 301.3,152.1 301.5,150.7 301.7,149.3 301.8,147.9 302.0,146.5 302.2,145.1 302.4,143.7 302.6,142.4 302.8,141.0 303.0,139.7 303.2,138.3 303.3,137.0 303.5,135.7 303.7,134.5 303.9,133.2 304.1,131.9 304.3,130.7 304.5,129.5 304.7,128.3 304.8,127.1 305.0,125.9 305.2,124.7 305.4,123.6 305.6,122.5 305.8,121.4 306.0,120.3 306.2,119.2 306.4,118.2 306.5,117.1 306.7,116.1 306.9,115.1 307.1,114.2 307.3,113.2 307.5,112.3 307.7,111.3 307.9,110.4 308.0,109.5 308.2,108.7 308.4,107.8 308.6,107.0 308.8,106.2 309.0,105.4 309.2,104.6 309.4,103.8 309.5,103.1 309.7,102.3 309.9,101.6 310.1,100.9 310.3,100.2 310.5,99.6 310.7,98.9 310.9,98.3 311.0,97.6 311.2,97.0 311.4,96.4 311.6,95.8 311.8,95.2 312.0,94.7 312.2,94.1 312.4,93.6 312.5,93.1 312.7,92.5 312.9,92.0 313.1,91.5 313.3,91.1 313.5,90.6 313.7,90.1 313.9,89.7 314.1,89.2 314.2,88.8 314.4,88.4 314.8,87.6 315.2,86.8 315.6,86.1 315.9,85.3 316.3,84.7 316.7,84.0 317.1,83.4 317.4,82.8 317.8,82.2 318.2,81.7 318.6,81.1 318.9,80.6 319.3,80.1 319.7,79.7 320.1,79.2 320.4,78.8 320.8,78.4 321.2,78.0 321.6,77.6 321.9,77.3 322.3,76.9 322.7,76.6 323.1,76.3 323.4,76.0 323.8,75.7 324.2,75.4 324.6,75.1 324.9,74.9 325.3,74.6 325.7,74.4 326.1,74.1 326.6,73.8 327.2,73.5 327.8,73.2 328.3,72.9 328.9,72.6 329.5,72.4 330.0,72.2 330.6,71.9 331.1,71.7 331.7,71.5 332.3,71.3 332.8,71.2 333.4,71.0 334.0,70.8 334.5,70.7 335.1,70.5 335.7,70.4 336.2,70.3 336.8,70.1 337.3,70.0 337.9,69.9 338.5,69.8 339.0,69.7 339.6,69.6 340.2,69.5 340.7,69.5 341.3,69.4 341.9,69.3 342.4,69.2 343.0,69.2 343.5,69.1 344.1,69.0 344.7,69.0 345.2,68.9 345.8,68.9 346.4,68.8 346.9,68.8 347.5,68.7 348.1,68.7 348.6,68.7 349.2,68.6 349.9,68.6 350.7,68.5 351.4,68.5 352.2,68.4 352.9,68.4 353.7,68.4 354.4,68.3 355.2,68.3 355.9,68.3 356.7,68.3 357.4,68.2 358.2,68.2 358.9,68.2 359.7,68.2 360.4,68.2 361.2,68.1 361.9,68.1 362.7,68.1 363.5,68.1 364.2,68.1 365.0,68.1 365.7,68.1 366.5,68.0 367.2,68.0 368.0,68.0 368.7,68.0 369.5,68.0 370.2,68.0 371.0,68.0 371.7,68.0 372.5,68.0 373.2,68.0 374.0,68.0 374.7,68.0 375.5,68.0 376.2,68.0 377.0,68.0 377.7,68.0 378.5,67.9 379.2,67.9 380.0,67.9 380.7,67.9 381.5,67.9 382.2,67.9 383.0,67.9 383.7,67.9 384.5,67.9 385.2,67.9 386.0,67.9 386.7,67.9 387.5,67.9 388.2,67.9 389.0,67.9 389.7,67.9 390.5,67.9 391.3,67.9 392.0,67.9 392.8,67.9 393.5,67.9 394.3,67.9 395.0,67.9 395.8,67.9 396.5,67.9 397.3,67.9 398.0,67.9 398.8,67.9 399.5,67.9 400.3,67.9 401.0,67.9 401.8,67.9 402.5,67.9 403.3,67.9 404.0,67.9 404.8,67.9 405.5,67.9 406.3,67.9 407.0,67.9 407.8,67.9 408.5,67.9 409.3,67.9 410.0,67.9 410.8,67.9 411.5,67.9 412.3,67.9 413.0,67.9 413.8,67.9 414.5,67.9 415.3,67.9 416.0,67.9 416.8,67.9 417.5,67.9 418.3,67.9 419.1,67.9 419.8,67.9 420.6,67.9 421.3,67.9 422.1,67.9 422.8,67.9 423.6,67.9 424.3,67.9 425.1,67.9 425.8,67.9 426.6,67.9 427.3,67.9 428.1,67.9 428.8,67.9 429.6,67.9 430.3,67.9 431.1,67.9 431.8,67.9 432.6,67.9 433.3,67.9 434.1,67.9 434.8,67.9 435.6,67.9 436.3,67.9 437.1,67.9 437.8,67.9 438.6,67.9 439.3,67.9 440.1,67.9 440.8,67.9 441.6,67.9 442.3,67.9 443.1,67.9 443.8,67.9 444.6,67.9 445.3,67.9 446.1,67.9 446.9,67.9 447.6,67.9 448.4,67.9 449.1,67.9 449.9,67.9 450.6,67.9 451.4,67.9 452.1,67.9 452.9,67.9 453.6,67.9 454.4,67.9 455.1,67.9 455.9,67.9 456.6,67.9 457.4,67.9 458.1,67.9 458.9,67.9 459.6,67.9 460.4,67.9 461.1,67.9 461.9,67.9 462.6,67.9 463.4,67.9 464.1,67.9 464.9,67.9 465.6,67.9 466.4,67.9 467.1,67.9 467.9,67.9 468.6,67.9 469.4,67.9 470.1,67.9 470.9,67.9 471.6,67.9 472.4,67.9 473.1,67.9 473.9,67.9 474.6,67.9 475.4,67.9 476.2,67.9 476.9,67.9 477.7,67.9 478.4,67.9 479.2,67.9 479.9,67.9 480.7,67.9 481.4,67.9 482.2,67.9 482.9,67.9 483.7,67.9 484.4,67.9 485.2,67.9 485.9,67.9 486.7,67.9 487.4,67.9 488.2,67.9 488.9,67.9 489.7,67.9 490.4,67.9 491.2,67.9 491.9,67.9 492.7,67.9 493.4,67.9 494.2,67.9 494.9,67.9 495.7,67.9 496.4,67.9 497.2,67.9 497.6,67.9" fill="none" stroke="#000" stroke-width="1.45" stroke-linejoin="round"/>
<polyline points="121.9,357.7 122.3,357.4 122.7,357.2 123.0,356.9 123.4,356.6 123.8,356.3 124.2,356.0 124.5,355.8 124.9,355.5 125.3,355.2 125.7,354.9 126.0,354.6 126.4,354.3 126.8,354.0 127.2,353.7 127.5,353.4 127.9,353.1 128.3,352.8 128.7,352.5 129.0,352.1 129.4,351.8 129.8,351.5 130.2,351.2 130.5,350.8 130.9,350.5 131.3,350.2 131.7,349.8 132.0,349.5 132.4,349.1 132.8,348.8 133.2,348.4 133.5,348.1 133.9,347.7 134.3,347.3 134.7,346.9 135.0,346.6 135.4,346.2 135.8,345.8 136.2,345.4 136.6,345.0 136.9,344.6 137.3,344.2 137.7,343.8 138.1,343.3 138.4,342.9 138.8,342.5 139.2,342.0 139.6,341.6 139.9,341.1 140.3,340.7 140.7,340.2 141.1,339.7 141.4,339.2 141.8,338.7 142.2,338.2 142.6,337.7 142.9,337.2 143.3,336.7 143.7,336.1 144.1,335.6 144.4,335.0 144.8,334.4 145.2,333.8 145.6,333.3 145.9,332.6 146.3,332.0 146.7,331.4 147.1,330.8 147.4,330.1 147.8,329.4 148.2,328.7 148.6,328.0 148.9,327.3 149.3,326.6 149.7,325.8 150.1,325.1 150.5,324.3 150.8,323.5 151.2,322.7 151.4,322.3 151.6,321.8 151.8,321.4 152.0,321.0 152.1,320.5 152.3,320.1 152.5,319.7 152.7,319.2 152.9,318.7 153.1,318.3 153.3,317.8 153.5,317.3 153.6,316.9 153.8,316.4 154.0,315.9 154.2,315.4 154.4,314.9 154.6,314.4 154.8,313.9 155.0,313.4 155.1,312.8 155.3,312.3 155.5,311.8 155.7,311.2 155.9,310.7 156.1,310.1 156.3,309.6 156.5,309.0 156.6,308.4 156.8,307.8 157.0,307.3 157.2,306.7 157.4,306.1 157.6,305.5 157.8,304.9 158.0,304.2 158.2,303.6 158.3,303.0 158.5,302.4 158.7,301.7 158.9,301.1 159.1,300.4 159.3,299.7 159.5,299.1 159.7,298.4 159.8,297.7 160.0,297.0 160.2,296.3 160.4,295.6 160.6,294.9 160.8,294.2 161.0,293.5 161.2,292.8 161.3,292.0 161.5,291.3 161.7,290.5 161.9,289.8 162.1,289.0 162.3,288.2 162.5,287.5 162.7,286.7 162.8,285.9 163.0,285.1 163.2,284.3 163.4,283.5 163.6,282.7 163.8,281.8 164.0,281.0 164.2,280.1 164.4,279.3 164.5,278.4 164.7,277.6 164.9,276.7 165.1,275.8 165.3,274.9 165.5,274.0 165.7,273.1 165.9,272.2 166.0,271.3 166.2,270.3 166.4,269.4 166.6,268.4 166.8,267.5 167.0,266.5 167.2,265.5 167.4,264.5 167.5,263.6 167.7,262.5 167.9,261.5 168.1,260.5 168.3,259.5 168.5,258.4 168.7,257.4 168.9,256.3 169.0,255.2 169.2,254.2 169.4,253.1 169.6,252.0 169.8,250.9 170.0,249.7 170.2,248.6 170.4,247.5 170.5,246.3 170.7,245.2 170.9,244.0 171.1,242.8 171.3,241.6 171.5,240.4 171.7,239.2 171.9,238.0 172.1,236.8 172.2,235.5 172.4,234.3 172.6,233.0 172.8,231.8 173.0,230.5 173.2,229.2 173.4,227.9 173.6,226.6 173.7,225.3 173.9,224.0 174.1,222.6 174.3,221.3 174.5,220.0 174.7,218.6 174.9,217.2 175.1,215.9 175.2,214.5 175.4,213.1 175.6,211.7 175.8,210.3 176.0,208.9 176.2,207.5 176.4,206.1 176.6,204.7 176.7,203.3 176.9,201.8 177.1,200.4 177.3,198.9 177.5,197.5 177.7,196.0 177.9,194.6 178.1,193.1 178.2,191.7 178.4,190.2 178.6,188.7 178.8,187.3 179.0,185.8 179.2,184.3 179.4,182.8 179.6,181.4 179.8,179.9 179.9,178.4 180.1,176.9 180.3,175.5 180.5,174.0 180.7,172.5 180.9,171.0 181.1,169.6 181.3,168.1 181.4,166.6 181.6,165.1 181.8,163.7 182.0,162.2 182.2,160.7 182.4,159.3 182.6,157.8 182.8,156.4 182.9,155.0 183.1,153.5 183.3,152.1 183.5,150.7 183.7,149.3 183.9,147.9 184.1,146.5 184.3,145.1 184.4,143.7 184.6,142.4 184.8,141.0 185.0,139.7 185.2,138.3 185.4,137.0 185.6,135.7 185.8,134.5 186.0,133.2 186.1,131.9 186.3,130.7 186.5,129.5 186.7,128.3 186.9,127.1 187.1,125.9 187.3,124.7 187.5,123.6 187.6,122.5 187.8,121.4 188.0,120.3 188.2,119.2 188.4,118.2 188.6,117.1 188.8,116.1 189.0,115.1 189.1,114.2 189.3,113.2 189.5,112.3 189.7,111.3 189.9,110.4 190.1,109.5 190.3,108.7 190.5,107.8 190.6,107.0 190.8,106.2 191.0,105.4 191.2,104.6 191.4,103.8 191.6,103.1 191.8,102.3 192.0,101.6 192.1,100.9 192.3,100.2 192.5,99.6 192.7,98.9 192.9,98.3 193.1,97.6 193.3,97.0 193.5,96.4 193.7,95.8 193.8,95.2 194.0,94.7 194.2,94.1 194.4,93.6 194.6,93.1 194.8,92.5 195.0,92.0 195.2,91.5 195.3,91.1 195.5,90.6 195.7,90.1 195.9,89.7 196.1,89.2 196.3,88.8 196.5,88.4 196.8,87.6 197.2,86.8 197.6,86.1 198.0,85.3 198.3,84.7 198.7,84.0 199.1,83.4 199.5,82.8 199.9,82.2 200.2,81.7 200.6,81.1 201.0,80.6 201.4,80.1 201.7,79.7 202.1,79.2 202.5,78.8 202.9,78.4 203.2,78.0 203.6,77.6 204.0,77.3 204.4,76.9 204.7,76.6 205.1,76.3 205.5,76.0 205.9,75.7 206.2,75.4 206.6,75.1 207.0,74.9 207.4,74.6 207.7,74.4 208.1,74.1 208.7,73.8 209.2,73.5 209.8,73.2 210.4,72.9 210.9,72.6 211.5,72.4 212.1,72.2 212.6,71.9 213.2,71.7 213.8,71.5 214.3,71.3 214.9,71.2 215.4,71.0 216.0,70.8 216.6,70.7 217.1,70.5 217.7,70.4 218.3,70.3 218.8,70.1 219.4,70.0 219.9,69.9 220.5,69.8 221.1,69.7 221.6,69.6 222.2,69.5 222.8,69.5 223.3,69.4 223.9,69.3 224.5,69.2 225.0,69.2 225.6,69.1 226.1,69.0 226.7,69.0 227.3,68.9 227.8,68.9 228.4,68.8 229.0,68.8 229.5,68.7 230.1,68.7 230.7,68.7 231.2,68.6 232.0,68.6 232.7,68.5 233.5,68.5 234.2,68.4 235.0,68.4 235.7,68.4 236.5,68.3 237.2,68.3 238.0,68.3 238.7,68.3 239.5,68.2 240.2,68.2 241.0,68.2 241.7,68.2 242.5,68.2 243.2,68.1 244.0,68.1 244.7,68.1 245.5,68.1 246.2,68.1 247.0,68.1 247.7,68.1 248.5,68.0 249.3,68.0 250.0,68.0 250.8,68.0 251.5,68.0 252.3,68.0 253.0,68.0 253.8,68.0 254.5,68.0 255.3,68.0 256.0,68.0 256.8,68.0 257.5,68.0 258.3,68.0 259.0,68.0 259.8,68.0 260.5,67.9 261.3,67.9 262.0,67.9 262.8,67.9 263.5,67.9 264.3,67.9 265.0,67.9 265.8,67.9 266.5,67.9 267.3,67.9 268.0,67.9 268.8,67.9 269.5,67.9 270.3,67.9 271.0,67.9 271.8,67.9 272.5,67.9 273.3,67.9 274.0,67.9 274.8,67.9 275.5,67.9 276.3,67.9 277.0,67.9 277.8,67.9 278.6,67.9 279.3,67.9 280.1,67.9 280.8,67.9 281.6,67.9 282.3,67.9 283.1,67.9 283.8,67.9 284.6,67.9 285.3,67.9 286.1,67.9 286.8,67.9 287.6,67.9 288.3,67.9 289.1,67.9 289.8,67.9 290.6,67.9 291.3,67.9 292.1,67.9 292.8,67.9 293.6,67.9 294.3,67.9 295.1,67.9 295.8,67.9 296.6,67.9 297.3,67.9 298.1,67.9 298.8,67.9 299.6,67.9 300.3,67.9 301.1,67.9 301.8,67.9 302.6,67.9 303.3,67.9 304.1,67.9 304.8,67.9 305.6,67.9 306.4,67.9 307.1,67.9 307.9,67.9 308.6,67.9 309.4,67.9 310.1,67.9 310.9,67.9 311.6,67.9 312.4,67.9 313.1,67.9 313.9,67.9 314.6,67.9 315.4,67.9 316.1,67.9 316.9,67.9 317.6,67.9 318.4,67.9 319.1,67.9 319.9,67.9 320.6,67.9 321.4,67.9 322.1,67.9 322.9,67.9 323.6,67.9 324.4,67.9 325.1,67.9 325.9,67.9 326.6,67.9 327.4,67.9 328.1,67.9 328.9,67.9 329.6,67.9 330.4,67.9 331.1,67.9 331.9,67.9 332.6,67.9 333.4,67.9 334.2,67.9 334.9,67.9 335.7,67.9 336.4,67.9 337.2,67.9 337.9,67.9 338.7,67.9 339.4,67.9 340.2,67.9 340.9,67.9 341.7,67.9 342.4,67.9 343.2,67.9 343.9,67.9 344.7,67.9 345.4,67.9 346.2,67.9 346.9,67.9 347.7,67.9 348.4,67.9 349.2,67.9 349.9,67.9 350.7,67.9 351.4,67.9 352.2,67.9 352.9,67.9 353.7,67.9 354.4,67.9 355.2,67.9 355.9,67.9 356.7,67.9 357.4,67.9 358.2,67.9 358.9,67.9 359.7,67.9 360.4,67.9 361.2,67.9 361.9,67.9 362.7,67.9 363.5,67.9 364.2,67.9 365.0,67.9 365.7,67.9 366.5,67.9 367.2,67.9 368.0,67.9 368.7,67.9 369.5,67.9 370.2,67.9 371.0,67.9 371.7,67.9 372.5,67.9 373.2,67.9 374.0,67.9 374.7,67.9 375.5,67.9 376.2,67.9 377.0,67.9 377.7,67.9 378.5,67.9 379.2,67.9 380.0,67.9 380.7,67.9 381.5,67.9 382.2,67.9 383.0,67.9 383.7,67.9 384.5,67.9 385.2,67.9 386.0,67.9 386.7,67.9 387.5,67.9 388.2,67.9 389.0,67.9 389.7,67.9 390.5,67.9 391.3,67.9 392.0,67.9 392.8,67.9 393.5,67.9 394.3,67.9 395.0,67.9 395.8,67.9 396.5,67.9 397.3,67.9 398.0,67.9 398.8,67.9 399.5,67.9 400.3,67.9 401.0,67.9 401.8,67.9 402.5,67.9 403.3,67.9 404.0,67.9 404.8,67.9 405.5,67.9 406.3,67.9 407.0,67.9 407.8,67.9 408.5,67.9 409.3,67.9 410.0,67.9 410.8,67.9 411.5,67.9 412.3,67.9 413.0,67.9 413.8,67.9 414.5,67.9 415.3,67.9 416.0,67.9 416.8,67.9 417.5,67.9 418.3,67.9 419.1,67.9 419.8,67.9 420.6,67.9 421.3,67.9 422.1,67.9 422.8,67.9 423.6,67.9 424.3,67.9 425.1,67.9 425.8,67.9 426.6,67.9 427.3,67.9 428.1,67.9 428.8,67.9 429.6,67.9 430.3,67.9 431.1,67.9 431.8,67.9 432.6,67.9 433.3,67.9 434.1,67.9 434.8,67.9 435.6,67.9 436.3,67.9 437.1,67.9 437.8,67.9 438.6,67.9 439.3,67.9 440.1,67.9 440.8,67.9 441.6,67.9 442.3,67.9 443.1,67.9 443.8,67.9 444.6,67.9 445.3,67.9 446.1,67.9 446.9,67.9 447.6,67.9 448.4,67.9 449.1,67.9 449.9,67.9 450.6,67.9 451.4,67.9 452.1,67.9 452.9,67.9 453.6,67.9 454.4,67.9 455.1,67.9 455.9,67.9 456.6,67.9 457.4,67.9 458.1,67.9 458.9,67.9 459.6,67.9 460.4,67.9 461.1,67.9 461.9,67.9 462.6,67.9 463.4,67.9 464.1,67.9 464.9,67.9 465.6,67.9 466.4,67.9 467.1,67.9 467.9,67.9 468.6,67.9 469.4,67.9 470.1,67.9 470.9,67.9 471.6,67.9 472.4,67.9 473.1,67.9 473.9,67.9 474.6,67.9 475.4,67.9 476.2,67.9 476.9,67.9 477.7,67.9 478.4,67.9 479.2,67.9 479.9,67.9 480.7,67.9 481.4,67.9 482.2,67.9 482.9,67.9 483.7,67.9 484.4,67.9 485.2,67.9 485.9,67.9 486.7,67.9 487.4,67.9 488.2,67.9 488.9,67.9 489.7,67.9 490.4,67.9 491.2,67.9 491.9,67.9 492.7,67.9 493.4,67.9 494.2,67.9 494.9,67.9 495.7,67.9 496.4,67.9 497.2,67.9 497.6,67.9" fill="none" stroke="#000" stroke-width="1.45" stroke-linejoin="round"/>
<polyline points="121.9,247.1 122.1,246.0 122.3,244.8 122.5,243.7 122.7,242.5 122.8,241.3 123.0,240.1 123.2,238.9 123.4,237.7 123.6,236.4 123.8,235.2 124.0,233.9 124.2,232.7 124.3,231.4 124.5,230.1 124.7,228.8 124.9,227.5 125.1,226.2 125.3,224.9 125.5,223.6 125.7,222.3 125.8,220.9 126.0,219.6 126.2,218.2 126.4,216.9 126.6,215.5 126.8,214.1 127.0,212.7 127.2,211.3 127.3,209.9 127.5,208.5 127.7,207.1 127.9,205.7 128.1,204.3 128.3,202.9 128.5,201.4 128.7,200.0 128.8,198.5 129.0,197.1 129.2,195.6 129.4,194.2 129.6,192.7 129.8,191.3 130.0,189.8 130.2,188.3 130.4,186.9 130.5,185.4 130.7,183.9 130.9,182.4 131.1,181.0 131.3,179.5 131.5,178.0 131.7,176.5 131.9,175.1 132.0,173.6 132.2,172.1 132.4,170.6 132.6,169.1 132.8,167.7 133.0,166.2 133.2,164.7 133.4,163.3 133.5,161.8 133.7,160.3 133.9,158.9 134.1,157.4 134.3,156.0 134.5,154.6 134.7,153.1 134.9,151.7 135.0,150.3 135.2,148.9 135.4,147.5 135.6,146.1 135.8,144.7 136.0,143.3 136.2,142.0 136.4,140.6 136.6,139.3 136.7,138.0 136.9,136.7 137.1,135.4 137.3,134.1 137.5,132.8 137.7,131.6 137.9,130.3 138.1,129.1 138.2,127.9 138.4,126.7 138.6,125.6 138.8,124.4 139.0,123.3 139.2,122.2 139.4,121.1 139.6,120.0 139.7,118.9 139.9,117.9 140.1,116.9 140.3,115.9 140.5,114.9 140.7,113.9 140.9,112.9 141.1,112.0 141.2,111.1 141.4,110.2 141.6,109.3 141.8,108.4 142.0,107.6 142.2,106.8 142.4,106.0 142.6,105.2 142.7,104.4 142.9,103.6 143.1,102.9 143.3,102.1 143.5,101.4 143.7,100.7 143.9,100.0 144.1,99.4 144.3,98.7 144.4,98.1 144.6,97.4 144.8,96.8 145.0,96.2 145.2,95.7 145.4,95.1 145.6,94.5 145.8,94.0 145.9,93.4 146.1,92.9 146.3,92.4 146.5,91.9 146.7,91.4 146.9,90.9 147.1,90.5 147.3,90.0 147.4,89.6 147.6,89.1 147.8,88.7 148.0,88.3 148.4,87.5 148.8,86.7 149.1,86.0 149.5,85.2 149.9,84.6 150.3,83.9 150.6,83.3 151.0,82.7 151.4,82.1 151.8,81.6 152.1,81.1 152.5,80.6 152.9,80.1 153.3,79.6 153.6,79.2 154.0,78.8 154.4,78.3 154.8,78.0 155.1,77.6 155.5,77.2 155.9,76.9 156.3,76.6 156.6,76.2 157.0,75.9 157.4,75.6 157.8,75.4 158.2,75.1 158.5,74.8 158.9,74.6 159.3,74.3 159.7,74.1 160.2,73.8 160.8,73.5 161.3,73.2 161.9,72.9 162.5,72.6 163.0,72.4 163.6,72.1 164.2,71.9 164.7,71.7 165.3,71.5 165.9,71.3 166.4,71.1 167.0,71.0 167.5,70.8 168.1,70.7 168.7,70.5 169.2,70.4 169.8,70.3 170.4,70.1 170.9,70.0 171.5,69.9 172.1,69.8 172.6,69.7 173.2,69.6 173.7,69.5 174.3,69.5 174.9,69.4 175.4,69.3 176.0,69.2 176.6,69.2 177.1,69.1 177.7,69.0 178.2,69.0 178.8,68.9 179.4,68.9 179.9,68.8 180.5,68.8 181.1,68.7 181.6,68.7 182.2,68.6 182.8,68.6 183.5,68.6 184.3,68.5 185.0,68.5 185.8,68.4 186.5,68.4 187.3,68.4 188.0,68.3 188.8,68.3 189.5,68.3 190.3,68.3 191.0,68.2 191.8,68.2 192.5,68.2 193.3,68.2 194.0,68.2 194.8,68.1 195.5,68.1 196.3,68.1 197.0,68.1 197.8,68.1 198.5,68.1 199.3,68.1 200.0,68.0 200.8,68.0 201.5,68.0 202.3,68.0 203.0,68.0 203.8,68.0 204.5,68.0 205.3,68.0 206.0,68.0 206.8,68.0 207.6,68.0 208.3,68.0 209.1,68.0 209.8,68.0 210.6,68.0 211.3,68.0 212.1,67.9 212.8,67.9 213.6,67.9 214.3,67.9 215.1,67.9 215.8,67.9 216.6,67.9 217.3,67.9 218.1,67.9 218.8,67.9 219.6,67.9 220.3,67.9 221.1,67.9 221.8,67.9 222.6,67.9 223.3,67.9 224.1,67.9 224.8,67.9 225.6,67.9 226.3,67.9 227.1,67.9 227.8,67.9 228.6,67.9 229.3,67.9 230.1,67.9 230.8,67.9 231.6,67.9 232.3,67.9 233.1,67.9 233.8,67.9 234.6,67.9 235.4,67.9 236.1,67.9 236.9,67.9 237.6,67.9 238.4,67.9 239.1,67.9 239.9,67.9 240.6,67.9 241.4,67.9 242.1,67.9 242.9,67.9 243.6,67.9 244.4,67.9 245.1,67.9 245.9,67.9 246.6,67.9 247.4,67.9 248.1,67.9 248.9,67.9 249.6,67.9 250.4,67.9 251.1,67.9 251.9,67.9 252.6,67.9 253.4,67.9 254.1,67.9 254.9,67.9 255.6,67.9 256.4,67.9 257.1,67.9 257.9,67.9 258.6,67.9 259.4,67.9 260.1,67.9 260.9,67.9 261.6,67.9 262.4,67.9 263.2,67.9 263.9,67.9 264.7,67.9 265.4,67.9 266.2,67.9 266.9,67.9 267.7,67.9 268.4,67.9 269.2,67.9 269.9,67.9 270.7,67.9 271.4,67.9 272.2,67.9 272.9,67.9 273.7,67.9 274.4,67.9 275.2,67.9 275.9,67.9 276.7,67.9 277.4,67.9 278.2,67.9 278.9,67.9 279.7,67.9 280.4,67.9 281.2,67.9 281.9,67.9 282.7,67.9 283.4,67.9 284.2,67.9 284.9,67.9 285.7,67.9 286.4,67.9 287.2,67.9 287.9,67.9 288.7,67.9 289.4,67.9 290.2,67.9 290.9,67.9 291.7,67.9 292.5,67.9 293.2,67.9 294.0,67.9 294.7,67.9 295.5,67.9 296.2,67.9 297.0,67.9 297.7,67.9 298.5,67.9 299.2,67.9 300.0,67.9 300.7,67.9 301.5,67.9 302.2,67.9 303.0,67.9 303.7,67.9 304.5,67.9 305.2,67.9 306.0,67.9 306.7,67.9 307.5,67.9 308.2,67.9 309.0,67.9 309.7,67.9 310.5,67.9 311.2,67.9 312.0,67.9 312.7,67.9 313.5,67.9 314.2,67.9 315.0,67.9 315.7,67.9 316.5,67.9 317.2,67.9 318.0,67.9 318.7,67.9 319.5,67.9 320.3,67.9 321.0,67.9 321.8,67.9 322.5,67.9 323.3,67.9 324.0,67.9 324.8,67.9 325.5,67.9 326.3,67.9 327.0,67.9 327.8,67.9 328.5,67.9 329.3,67.9 330.0,67.9 330.8,67.9 331.5,67.9 332.3,67.9 333.0,67.9 333.8,67.9 334.5,67.9 335.3,67.9 336.0,67.9 336.8,67.9 337.5,67.9 338.3,67.9 339.0,67.9 339.8,67.9 340.5,67.9 341.3,67.9 342.0,67.9 342.8,67.9 343.5,67.9 344.3,67.9 345.0,67.9 345.8,67.9 346.5,67.9 347.3,67.9 348.1,67.9 348.8,67.9 349.6,67.9 350.3,67.9 351.1,67.9 351.8,67.9 352.6,67.9 353.3,67.9 354.1,67.9 354.8,67.9 355.6,67.9 356.3,67.9 357.1,67.9 357.8,67.9 358.6,67.9 359.3,67.9 360.1,67.9 360.8,67.9 361.6,67.9 362.3,67.9 363.1,67.9 363.8,67.9 364.6,67.9 365.3,67.9 366.1,67.9 366.8,67.9 367.6,67.9 368.3,67.9 369.1,67.9 369.8,67.9 370.6,67.9 371.3,67.9 372.1,67.9 372.8,67.9 373.6,67.9 374.3,67.9 375.1,67.9 375.8,67.9 376.6,67.9 377.4,67.9 378.1,67.9 378.9,67.9 379.6,67.9 380.4,67.9 381.1,67.9 381.9,67.9 382.6,67.9 383.4,67.9 384.1,67.9 384.9,67.9 385.6,67.9 386.4,67.9 387.1,67.9 387.9,67.9 388.6,67.9 389.4,67.9 390.1,67.9 390.9,67.9 391.6,67.9 392.4,67.9 393.1,67.9 393.9,67.9 394.6,67.9 395.4,67.9 396.1,67.9 396.9,67.9 397.6,67.9 398.4,67.9 399.1,67.9 399.9,67.9 400.6,67.9 401.4,67.9 402.1,67.9 402.9,67.9 403.6,67.9 404.4,67.9 405.2,67.9 405.9,67.9 406.7,67.9 407.4,67.9 408.2,67.9 408.9,67.9 409.7,67.9 410.4,67.9 411.2,67.9 411.9,67.9 412.7,67.9 413.4,67.9 414.2,67.9 414.9,67.9 415.7,67.9 416.4,67.9 417.2,67.9 417.9,67.9 418.7,67.9 419.4,67.9 420.2,67.9 420.9,67.9 421.7,67.9 422.4,67.9 423.2,67.9 423.9,67.9 424.7,67.9 425.4,67.9 426.2,67.9 426.9,67.9 427.7,67.9 428.4,67.9 429.2,67.9 429.9,67.9 430.7,67.9 431.4,67.9 432.2,67.9 433.0,67.9 433.7,67.9 434.5,67.9 435.2,67.9 436.0,67.9 436.7,67.9 437.5,67.9 438.2,67.9 439.0,67.9 439.7,67.9 440.5,67.9 441.2,67.9 442.0,67.9 442.7,67.9 443.5,67.9 444.2,67.9 445.0,67.9 445.7,67.9 446.5,67.9 447.2,67.9 448.0,67.9 448.7,67.9 449.5,67.9 450.2,67.9 451.0,67.9 451.7,67.9 452.5,67.9 453.2,67.9 454.0,67.9 454.7,67.9 455.5,67.9 456.2,67.9 457.0,67.9 457.7,67.9 458.5,67.9 459.2,67.9 460.0,67.9 460.7,67.9 461.5,67.9 462.3,67.9 463.0,67.9 463.8,67.9 464.5,67.9 465.3,67.9 466.0,67.9 466.8,67.9 467.5,67.9 468.3,67.9 469.0,67.9 469.8,67.9 470.5,67.9 471.3,67.9 472.0,67.9 472.8,67.9 473.5,67.9 474.3,67.9 475.0,67.9 475.8,67.9 476.5,67.9 477.3,67.9 478.0,67.9 478.8,67.9 479.5,67.9 480.3,67.9 481.0,67.9 481.8,67.9 482.5,67.9 483.3,67.9 484.0,67.9 484.8,67.9 485.5,67.9 486.3,67.9 487.0,67.9 487.8,67.9 488.5,67.9 489.3,67.9 490.1,67.9 490.8,67.9 491.6,67.9 492.3,67.9 493.1,67.9 493.8,67.9 494.6,67.9 495.3,67.9 496.1,67.9 496.8,67.9 497.6,67.9" fill="none" stroke="#000" stroke-width="1.45" stroke-linejoin="round"/>
<polyline points="121.9,138.8 122.1,137.5 122.3,136.2 122.5,134.9 122.7,133.6 122.8,132.4 123.0,131.1 123.2,129.9 123.4,128.7 123.6,127.5 123.8,126.3 124.0,125.1 124.2,124.0 124.3,122.9 124.5,121.8 124.7,120.7 124.9,119.6 125.1,118.5 125.3,117.5 125.5,116.5 125.7,115.5 125.8,114.5 126.0,113.5 126.2,112.6 126.4,111.7 126.6,110.8 126.8,109.9 127.0,109.0 127.2,108.1 127.3,107.3 127.5,106.5 127.7,105.7 127.9,104.9 128.1,104.1 128.3,103.3 128.5,102.6 128.7,101.9 128.8,101.2 129.0,100.5 129.2,99.8 129.4,99.1 129.6,98.5 129.8,97.8 130.0,97.2 130.2,96.6 130.4,96.0 130.5,95.4 130.7,94.9 130.9,94.3 131.1,93.8 131.3,93.2 131.5,92.7 131.7,92.2 131.9,91.7 132.0,91.2 132.2,90.8 132.4,90.3 132.6,89.8 132.8,89.4 133.0,89.0 133.2,88.5 133.4,88.1 133.7,87.3 134.1,86.6 134.5,85.8 134.9,85.1 135.2,84.4 135.6,83.8 136.0,83.2 136.4,82.6 136.7,82.0 137.1,81.5 137.5,81.0 137.9,80.5 138.2,80.0 138.6,79.5 139.0,79.1 139.4,78.7 139.7,78.3 140.1,77.9 140.5,77.5 140.9,77.2 141.2,76.8 141.6,76.5 142.0,76.2 142.4,75.9 142.7,75.6 143.1,75.3 143.5,75.0 143.9,74.8 144.3,74.5 144.6,74.3 145.0,74.1 145.6,73.7 146.1,73.4 146.7,73.1 147.3,72.9 147.8,72.6 148.4,72.3 148.9,72.1 149.5,71.9 150.1,71.7 150.6,71.5 151.2,71.3 151.8,71.1 152.3,71.0 152.9,70.8 153.5,70.6 154.0,70.5 154.6,70.4 155.1,70.2 155.7,70.1 156.3,70.0 156.8,69.9 157.4,69.8 158.0,69.7 158.5,69.6 159.1,69.5 159.7,69.4 160.2,69.4 160.8,69.3 161.3,69.2 161.9,69.2 162.5,69.1 163.0,69.0 163.6,69.0 164.2,68.9 164.7,68.9 165.3,68.8 165.9,68.8 166.4,68.7 167.0,68.7 167.5,68.6 168.1,68.6 168.9,68.6 169.6,68.5 170.4,68.5 171.1,68.4 171.9,68.4 172.6,68.4 173.4,68.3 174.1,68.3 174.9,68.3 175.6,68.3 176.4,68.2 177.1,68.2 177.9,68.2 178.6,68.2 179.4,68.2 180.1,68.1 180.9,68.1 181.6,68.1 182.4,68.1 183.1,68.1 183.9,68.1 184.6,68.1 185.4,68.0 186.1,68.0 186.9,68.0 187.6,68.0 188.4,68.0 189.1,68.0 189.9,68.0 190.6,68.0 191.4,68.0 192.1,68.0 192.9,68.0 193.7,68.0 194.4,68.0 195.2,68.0 195.9,68.0 196.7,68.0 197.4,67.9 198.2,67.9 198.9,67.9 199.7,67.9 200.4,67.9 201.2,67.9 201.9,67.9 202.7,67.9 203.4,67.9 204.2,67.9 204.9,67.9 205.7,67.9 206.4,67.9 207.2,67.9 207.9,67.9 208.7,67.9 209.4,67.9 210.2,67.9 210.9,67.9 211.7,67.9 212.4,67.9 213.2,67.9 213.9,67.9 214.7,67.9 215.4,67.9 216.2,67.9 216.9,67.9 217.7,67.9 218.4,67.9 219.2,67.9 219.9,67.9 220.7,67.9 221.5,67.9 222.2,67.9 223.0,67.9 223.7,67.9 224.5,67.9 225.2,67.9 226.0,67.9 226.7,67.9 227.5,67.9 228.2,67.9 229.0,67.9 229.7,67.9 230.5,67.9 231.2,67.9 232.0,67.9 232.7,67.9 233.5,67.9 234.2,67.9 235.0,67.9 235.7,67.9 236.5,67.9 237.2,67.9 238.0,67.9 238.7,67.9 239.5,67.9 240.2,67.9 241.0,67.9 241.7,67.9 242.5,67.9 243.2,67.9 244.0,67.9 244.7,67.9 245.5,67.9 246.2,67.9 247.0,67.9 247.7,67.9 248.5,67.9 249.3,67.9 250.0,67.9 250.8,67.9 251.5,67.9 252.3,67.9 253.0,67.9 253.8,67.9 254.5,67.9 255.3,67.9 256.0,67.9 256.8,67.9 257.5,67.9 258.3,67.9 259.0,67.9 259.8,67.9 260.5,67.9 261.3,67.9 262.0,67.9 262.8,67.9 263.5,67.9 264.3,67.9 265.0,67.9 265.8,67.9 266.5,67.9 267.3,67.9 268.0,67.9 268.8,67.9 269.5,67.9 270.3,67.9 271.0,67.9 271.8,67.9 272.5,67.9 273.3,67.9 274.0,67.9 274.8,67.9 275.5,67.9 276.3,67.9 277.0,67.9 277.8,67.9 278.6,67.9 279.3,67.9 280.1,67.9 280.8,67.9 281.6,67.9 282.3,67.9 283.1,67.9 283.8,67.9 284.6,67.9 285.3,67.9 286.1,67.9 286.8,67.9 287.6,67.9 288.3,67.9 289.1,67.9 289.8,67.9 290.6,67.9 291.3,67.9 292.1,67.9 292.8,67.9 293.6,67.9 294.3,67.9 295.1,67.9 295.8,67.9 296.6,67.9 297.3,67.9 298.1,67.9 298.8,67.9 299.6,67.9 300.3,67.9 301.1,67.9 301.8,67.9 302.6,67.9 303.3,67.9 304.1,67.9 304.8,67.9 305.6,67.9 306.4,67.9 307.1,67.9 307.9,67.9 308.6,67.9 309.4,67.9 310.1,67.9 310.9,67.9 311.6,67.9 312.4,67.9 313.1,67.9 313.9,67.9 314.6,67.9 315.4,67.9 316.1,67.9 316.9,67.9 317.6,67.9 318.4,67.9 319.1,67.9 319.9,67.9 320.6,67.9 321.4,67.9 322.1,67.9 322.9,67.9 323.6,67.9 324.4,67.9 325.1,67.9 325.9,67.9 326.6,67.9 327.4,67.9 328.1,67.9 328.9,67.9 329.6,67.9 330.4,67.9 331.1,67.9 331.9,67.9 332.6,67.9 333.4,67.9 334.2,67.9 334.9,67.9 335.7,67.9 336.4,67.9 337.2,67.9 337.9,67.9 338.7,67.9 339.4,67.9 340.2,67.9 340.9,67.9 341.7,67.9 342.4,67.9 343.2,67.9 343.9,67.9 344.7,67.9 345.4,67.9 346.2,67.9 346.9,67.9 347.7,67.9 348.4,67.9 349.2,67.9 349.9,67.9 350.7,67.9 351.4,67.9 352.2,67.9 352.9,67.9 353.7,67.9 354.4,67.9 355.2,67.9 355.9,67.9 356.7,67.9 357.4,67.9 358.2,67.9 358.9,67.9 359.7,67.9 360.4,67.9 361.2,67.9 361.9,67.9 362.7,67.9 363.5,67.9 364.2,67.9 365.0,67.9 365.7,67.9 366.5,67.9 367.2,67.9 368.0,67.9 368.7,67.9 369.5,67.9 370.2,67.9 371.0,67.9 371.7,67.9 372.5,67.9 373.2,67.9 374.0,67.9 374.7,67.9 375.5,67.9 376.2,67.9 377.0,67.9 377.7,67.9 378.5,67.9 379.2,67.9 380.0,67.9 380.7,67.9 381.5,67.9 382.2,67.9 383.0,67.9 383.7,67.9 384.5,67.9 385.2,67.9 386.0,67.9 386.7,67.9 387.5,67.9 388.2,67.9 389.0,67.9 389.7,67.9 390.5,67.9 391.3,67.9 392.0,67.9 392.8,67.9 393.5,67.9 394.3,67.9 395.0,67.9 395.8,67.9 396.5,67.9 397.3,67.9 398.0,67.9 398.8,67.9 399.5,67.9 400.3,67.9 401.0,67.9 401.8,67.9 402.5,67.9 403.3,67.9 404.0,67.9 404.8,67.9 405.5,67.9 406.3,67.9 407.0,67.9 407.8,67.9 408.5,67.9 409.3,67.9 410.0,67.9 410.8,67.9 411.5,67.9 412.3,67.9 413.0,67.9 413.8,67.9 414.5,67.9 415.3,67.9 416.0,67.9 416.8,67.9 417.5,67.9 418.3,67.9 419.1,67.9 419.8,67.9 420.6,67.9 421.3,67.9 422.1,67.9 422.8,67.9 423.6,67.9 424.3,67.9 425.1,67.9 425.8,67.9 426.6,67.9 427.3,67.9 428.1,67.9 428.8,67.9 429.6,67.9 430.3,67.9 431.1,67.9 431.8,67.9 432.6,67.9 433.3,67.9 434.1,67.9 434.8,67.9 435.6,67.9 436.3,67.9 437.1,67.9 437.8,67.9 438.6,67.9 439.3,67.9 440.1,67.9 440.8,67.9 441.6,67.9 442.3,67.9 443.1,67.9 443.8,67.9 444.6,67.9 445.3,67.9 446.1,67.9 446.9,67.9 447.6,67.9 448.4,67.9 449.1,67.9 449.9,67.9 450.6,67.9 451.4,67.9 452.1,67.9 452.9,67.9 453.6,67.9 454.4,67.9 455.1,67.9 455.9,67.9 456.6,67.9 457.4,67.9 458.1,67.9 458.9,67.9 459.6,67.9 460.4,67.9 461.1,67.9 461.9,67.9 462.6,67.9 463.4,67.9 464.1,67.9 464.9,67.9 465.6,67.9 466.4,67.9 467.1,67.9 467.9,67.9 468.6,67.9 469.4,67.9 470.1,67.9 470.9,67.9 471.6,67.9 472.4,67.9 473.1,67.9 473.9,67.9 474.6,67.9 475.4,67.9 476.2,67.9 476.9,67.9 477.7,67.9 478.4,67.9 479.2,67.9 479.9,67.9 480.7,67.9 481.4,67.9 482.2,67.9 482.9,67.9 483.7,67.9 484.4,67.9 485.2,67.9 485.9,67.9 486.7,67.9 487.4,67.9 488.2,67.9 488.9,67.9 489.7,67.9 490.4,67.9 491.2,67.9 491.9,67.9 492.7,67.9 493.4,67.9 494.2,67.9 494.9,67.9 495.7,67.9 496.4,67.9 497.2,67.9 497.6,67.9" fill="none" stroke="#000" stroke-width="1.45" stroke-linejoin="round"/>
</g>
<rect x="95.8" y="44.05" width="576.6" height="405.8" fill="none" stroke="#222" stroke-width="1.45"/>
<line x1="86.3" y1="431.40" x2="95.8" y2="431.40" stroke="#444" stroke-width="1.4"/>
<line x1="86.3" y1="339.27" x2="95.8" y2="339.27" stroke="#444" stroke-width="1.4"/>
<line x1="86.3" y1="247.15" x2="95.8" y2="247.15" stroke="#444" stroke-width="1.4"/>
<line x1="86.3" y1="155.02" x2="95.8" y2="155.02" stroke="#444" stroke-width="1.4"/>
<line x1="86.3" y1="62.90" x2="95.8" y2="62.90" stroke="#444" stroke-width="1.4"/>
<line x1="121.90" y1="449.85" x2="121.90" y2="459.6" stroke="#444" stroke-width="1.4"/>
<line x1="272.17" y1="449.85" x2="272.17" y2="459.6" stroke="#444" stroke-width="1.4"/>
<line x1="422.43" y1="449.85" x2="422.43" y2="459.6" stroke="#444" stroke-width="1.4"/>
<line x1="572.70" y1="449.85" x2="572.70" y2="459.6" stroke="#444" stroke-width="1.4"/>
<text x="82.6" y="441.90" text-anchor="end" font-family="Liberation Serif" font-size="30.4" stroke="#000" stroke-width="0.3" transform="translate(0 431.40) scale(1 1.05) translate(0 -431.40)">0.00</text>
<text x="82.6" y="349.77" text-anchor="end" font-family="Liberation Serif" font-size="30.4" stroke="#000" stroke-width="0.3" transform="translate(0 339.27) scale(1 1.05) translate(0 -339.27)">0.25</text>
<text x="82.6" y="257.65" text-anchor="end" font-family="Liberation Serif" font-size="30.4" stroke="#000" stroke-width="0.3" transform="translate(0 247.15) scale(1 1.05) translate(0 -247.15)">0.50</text>
<text x="82.6" y="165.52" text-anchor="end" font-family="Liberation Serif" font-size="30.4" stroke="#000" stroke-width="0.3" transform="translate(0 155.02) scale(1 1.05) translate(0 -155.02)">0.75</text>
<text x="82.6" y="73.40" text-anchor="end" font-family="Liberation Serif" font-size="30.4" stroke="#000" stroke-width="0.3" transform="translate(0 62.90) scale(1 1.05) translate(0 -62.90)">1.00</text>
<text x="121.90" y="483.8" text-anchor="middle" font-family="Liberation Serif" font-size="30.4" stroke="#000" stroke-width="0.3" transform="translate(0 474) scale(1 1.07) translate(0 -474)">0</text>
<text x="272.17" y="483.8" text-anchor="middle" font-family="Liberation Serif" font-size="30.4" stroke="#000" stroke-width="0.3" transform="translate(0 474) scale(1 1.07) translate(0 -474)">200</text>
<text x="422.43" y="483.8" text-anchor="middle" font-family="Liberation Serif" font-size="30.4" stroke="#000" stroke-width="0.3" transform="translate(0 474) scale(1 1.07) translate(0 -474)">400</text>
<text x="572.70" y="483.8" text-anchor="middle" font-family="Liberation Serif" font-size="30.4" stroke="#000" stroke-width="0.3" transform="translate(0 474) scale(1 1.07) translate(0 -474)">600</text>
<text x="386.9" y="33.2" font-family="Liberation Serif" font-size="46" stroke="#000" stroke-width="0.35" transform="translate(0 18) scale(1 1.03) translate(0 -18)">0.36</text>
<rect x="342.3" y="16.7" width="30" height="1.9" fill="#000"/><rect x="342.3" y="25.8" width="30" height="1.9" fill="#000"/>
<path d="M309,2.4 Q313.5,1.6 315.6,5 L325.9,33.3 L321.2,33.9 L312.7,7.2 Q311.6,4 308.8,3.9 Z" fill="#000"/>
<line x1="317.6" y1="19.6" x2="304.7" y2="32.5" stroke="#000" stroke-width="2.9" stroke-linecap="round"/>
<g fill="none" stroke="#000" stroke-linecap="round">
<path d="M3.6,244 Q5,238.2 8.6,237.9 Q12.5,237.8 12.6,241" stroke-width="1.7"/>
<path d="M13.1,240.5 L10.4,254.6" stroke-width="2.8"/>
<path d="M13.2,240.2 Q16,237.3 19.5,237.8 Q21.5,238.2 21.8,239.5" stroke-width="1.6"/>
<path d="M10.4,254.8 Q8.5,257.2 6.2,256.9 Q4.5,256.7 4,255.3" stroke-width="1.6"/>
<path d="M10.6,254.6 Q12.2,257.3 15.2,257 Q19.5,256.4 21.9,251.4" stroke-width="1.6"/>
</g>
<circle cx="21.9" cy="240.3" r="1.9" fill="#000"/>
<circle cx="4.1" cy="254.4" r="1.9" fill="#000"/>
<g fill="none" stroke="#000" stroke-linecap="round">
<path d="M386.3,494.8 L381.2,515.5 Q380.3,520.5 384,520.5 Q387.4,520.2 389.6,515.3" stroke-width="2.6"/>
<path d="M377.4,502.6 L390.6,502.6" stroke-width="1.6" stroke-linecap="butt"/>
</g>
</svg>
</body></html>
